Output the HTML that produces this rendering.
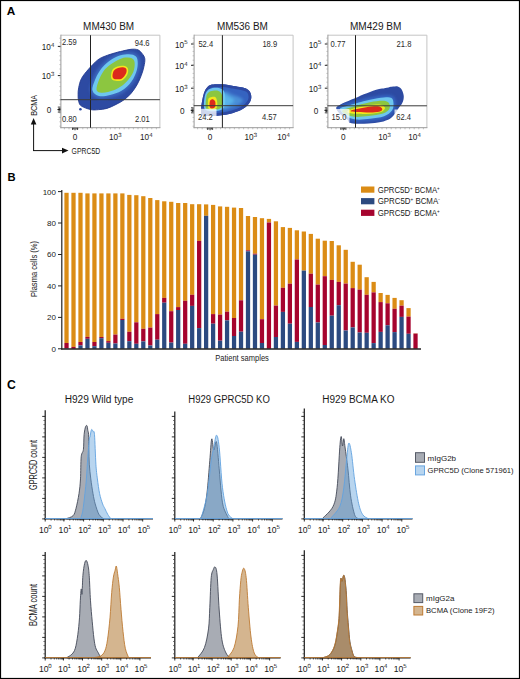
<!DOCTYPE html>
<html><head><meta charset="utf-8"><style>
html,body{margin:0;padding:0;background:#fff;}
svg{display:block;font-family:"Liberation Sans", sans-serif;}
</style></head><body>
<svg width="520" height="679" viewBox="0 0 520 679">
<rect x="0" y="0" width="520" height="679" fill="#fff"/>
<text x="6.8" y="15.2" font-size="11.8" font-weight="bold">A</text>
<text x="7.6" y="181.3" font-size="11.2" font-weight="bold">B</text>
<text x="7.0" y="388.6" font-size="12.2" font-weight="bold">C</text>
<defs><filter id="bl" x="-20%" y="-20%" width="140%" height="140%"><feGaussianBlur stdDeviation="0.75"/></filter><filter id="bl2" x="-20%" y="-20%" width="140%" height="140%"><feGaussianBlur stdDeviation="1.6"/></filter></defs>
<text x="108.6" y="29.6" font-size="10" text-anchor="middle" textLength="51" lengthAdjust="spacingAndGlyphs" fill="#1a1a1a">MM430 BM</text>
<clipPath id="c1"><path d="M78.10,94.60 C78.10,92.30 78.13,90.38 78.70,87.70 C79.27,85.02 79.87,81.58 81.50,78.50 C83.13,75.42 85.80,72.28 88.50,69.20 C91.20,66.12 94.95,62.17 97.70,60.00 C100.45,57.83 102.05,57.40 105.00,56.20 C107.95,55.00 112.52,53.65 115.40,52.80 C118.28,51.95 119.70,51.68 122.30,51.10 C124.90,50.52 128.40,49.52 131.00,49.30 C133.60,49.08 136.03,49.07 137.90,49.80 C139.77,50.53 141.05,52.20 142.20,53.70 C143.35,55.20 144.52,56.65 144.80,58.80 C145.08,60.95 144.48,63.85 143.90,66.60 C143.32,69.35 142.45,72.27 141.30,75.30 C140.15,78.33 138.72,81.78 137.00,84.80 C135.28,87.82 133.17,90.90 131.00,93.40 C128.83,95.90 126.48,97.97 124.00,99.80 C121.52,101.63 118.95,102.97 116.10,104.40 C113.25,105.83 109.78,107.53 106.90,108.40 C104.02,109.27 101.48,109.40 98.80,109.60 C96.12,109.80 93.68,110.18 90.80,109.60 C87.92,109.02 83.52,107.45 81.50,106.10 C79.48,104.75 79.27,103.42 78.70,101.50 C78.13,99.58 78.10,96.90 78.10,94.60 Z"/></clipPath>
<path d="M78.10,94.60 C78.10,92.30 78.13,90.38 78.70,87.70 C79.27,85.02 79.87,81.58 81.50,78.50 C83.13,75.42 85.80,72.28 88.50,69.20 C91.20,66.12 94.95,62.17 97.70,60.00 C100.45,57.83 102.05,57.40 105.00,56.20 C107.95,55.00 112.52,53.65 115.40,52.80 C118.28,51.95 119.70,51.68 122.30,51.10 C124.90,50.52 128.40,49.52 131.00,49.30 C133.60,49.08 136.03,49.07 137.90,49.80 C139.77,50.53 141.05,52.20 142.20,53.70 C143.35,55.20 144.52,56.65 144.80,58.80 C145.08,60.95 144.48,63.85 143.90,66.60 C143.32,69.35 142.45,72.27 141.30,75.30 C140.15,78.33 138.72,81.78 137.00,84.80 C135.28,87.82 133.17,90.90 131.00,93.40 C128.83,95.90 126.48,97.97 124.00,99.80 C121.52,101.63 118.95,102.97 116.10,104.40 C113.25,105.83 109.78,107.53 106.90,108.40 C104.02,109.27 101.48,109.40 98.80,109.60 C96.12,109.80 93.68,110.18 90.80,109.60 C87.92,109.02 83.52,107.45 81.50,106.10 C79.48,104.75 79.27,103.42 78.70,101.50 C78.13,99.58 78.10,96.90 78.10,94.60 Z" fill="#2d4aa2"/>
<g clip-path="url(#c1)"><g filter="url(#bl2)">
<path d="M92.50,90.50 C91.83,87.83 93.75,83.33 95.00,80.00 C96.25,76.67 98.08,73.28 100.00,70.50 C101.92,67.72 103.83,65.55 106.50,63.30 C109.17,61.05 112.92,58.47 116.00,57.00 C119.08,55.53 122.17,54.87 125.00,54.50 C127.83,54.13 130.95,54.05 133.00,54.80 C135.05,55.55 136.63,56.55 137.30,59.00 C137.97,61.45 137.97,65.75 137.00,69.50 C136.03,73.25 134.08,77.95 131.50,81.50 C128.92,85.05 125.08,88.55 121.50,90.80 C117.92,93.05 113.75,94.13 110.00,95.00 C106.25,95.87 101.92,96.75 99.00,96.00 C96.08,95.25 93.17,93.17 92.50,90.50 Z" fill="#4a8ad8" stroke="#3a66bd" stroke-width="5" stroke-linejoin="round"/>
</g><g filter="url(#bl)">
<path d="M92.50,90.50 C91.83,87.83 93.75,83.33 95.00,80.00 C96.25,76.67 98.08,73.28 100.00,70.50 C101.92,67.72 103.83,65.55 106.50,63.30 C109.17,61.05 112.92,58.47 116.00,57.00 C119.08,55.53 122.17,54.87 125.00,54.50 C127.83,54.13 130.95,54.05 133.00,54.80 C135.05,55.55 136.63,56.55 137.30,59.00 C137.97,61.45 137.97,65.75 137.00,69.50 C136.03,73.25 134.08,77.95 131.50,81.50 C128.92,85.05 125.08,88.55 121.50,90.80 C117.92,93.05 113.75,94.13 110.00,95.00 C106.25,95.87 101.92,96.75 99.00,96.00 C96.08,95.25 93.17,93.17 92.50,90.50 Z" fill="#6ec6ee"/>
<path d="M96.50,89.50 C96.30,87.50 97.72,83.42 98.80,80.50 C99.88,77.58 101.38,74.42 103.00,72.00 C104.62,69.58 106.08,67.95 108.50,66.00 C110.92,64.05 114.68,61.70 117.50,60.30 C120.32,58.90 123.02,57.95 125.40,57.60 C127.78,57.25 130.27,57.38 131.80,58.20 C133.33,59.02 134.35,60.20 134.60,62.50 C134.85,64.80 134.57,68.88 133.30,72.00 C132.03,75.12 129.55,78.48 127.00,81.20 C124.45,83.92 121.17,86.50 118.00,88.30 C114.83,90.10 111.00,91.30 108.00,92.00 C105.00,92.70 101.92,92.92 100.00,92.50 C98.08,92.08 96.70,91.50 96.50,89.50 Z" fill="#8cc63f"/>
<path d="M111.00,76.00 C111.05,74.30 111.52,71.18 112.60,69.60 C113.68,68.02 115.68,67.13 117.50,66.50 C119.32,65.87 121.78,65.50 123.50,65.80 C125.22,66.10 127.13,66.88 127.80,68.30 C128.47,69.72 128.33,72.35 127.50,74.30 C126.67,76.25 124.58,78.90 122.80,80.00 C121.02,81.10 118.55,80.93 116.80,80.90 C115.05,80.87 113.27,80.62 112.30,79.80 C111.33,78.98 110.95,77.70 111.00,76.00 Z" fill="#f4e71b"/>
<path d="M112.50,75.50 C112.58,74.17 113.08,71.75 114.00,70.50 C114.92,69.25 116.50,68.53 118.00,68.00 C119.50,67.47 121.62,67.13 123.00,67.30 C124.38,67.47 125.80,67.97 126.30,69.00 C126.80,70.03 126.72,71.92 126.00,73.50 C125.28,75.08 123.50,77.53 122.00,78.50 C120.50,79.47 118.42,79.30 117.00,79.30 C115.58,79.30 114.25,79.13 113.50,78.50 C112.75,77.87 112.42,76.83 112.50,75.50 Z" fill="#dc2a1f"/>
</g></g>
<path d="M78.10,94.60 C78.10,92.30 78.13,90.38 78.70,87.70 C79.27,85.02 79.87,81.58 81.50,78.50 C83.13,75.42 85.80,72.28 88.50,69.20 C91.20,66.12 94.95,62.17 97.70,60.00 C100.45,57.83 102.05,57.40 105.00,56.20 C107.95,55.00 112.52,53.65 115.40,52.80 C118.28,51.95 119.70,51.68 122.30,51.10 C124.90,50.52 128.40,49.52 131.00,49.30 C133.60,49.08 136.03,49.07 137.90,49.80 C139.77,50.53 141.05,52.20 142.20,53.70 C143.35,55.20 144.52,56.65 144.80,58.80 C145.08,60.95 144.48,63.85 143.90,66.60 C143.32,69.35 142.45,72.27 141.30,75.30 C140.15,78.33 138.72,81.78 137.00,84.80 C135.28,87.82 133.17,90.90 131.00,93.40 C128.83,95.90 126.48,97.97 124.00,99.80 C121.52,101.63 118.95,102.97 116.10,104.40 C113.25,105.83 109.78,107.53 106.90,108.40 C104.02,109.27 101.48,109.40 98.80,109.60 C96.12,109.80 93.68,110.18 90.80,109.60 C87.92,109.02 83.52,107.45 81.50,106.10 C79.48,104.75 79.27,103.42 78.70,101.50 C78.13,99.58 78.10,96.90 78.10,94.60 Z" fill="none" stroke="#223a90" stroke-width="0.9"/>
<circle cx="80.4" cy="109.2" r="1.3" fill="#2d4aa2"/>
<path d="M60.9,35.2 H159.9 V127.7" fill="none" stroke="#c4c4c4" stroke-width="1"/>
<line x1="60.9" y1="34.7" x2="60.9" y2="128.2" stroke="#9a9a9a" stroke-width="1"/>
<line x1="60.4" y1="127.7" x2="160.4" y2="127.7" stroke="#9a9a9a" stroke-width="1"/>
<line x1="90.5" y1="35.2" x2="90.5" y2="127.7" stroke="#222" stroke-width="1"/>
<line x1="60.4" y1="99.7" x2="159.9" y2="99.7" stroke="#3a3a3a" stroke-width="1"/>
<line x1="59.4" y1="38.2" x2="60.699999999999996" y2="38.2" stroke="#999" stroke-width="0.6"/>
<line x1="59.4" y1="42.6" x2="60.699999999999996" y2="42.6" stroke="#999" stroke-width="0.6"/>
<line x1="59.4" y1="47.0" x2="60.699999999999996" y2="47.0" stroke="#999" stroke-width="0.6"/>
<line x1="59.4" y1="51.4" x2="60.699999999999996" y2="51.4" stroke="#999" stroke-width="0.6"/>
<line x1="59.4" y1="55.8" x2="60.699999999999996" y2="55.8" stroke="#999" stroke-width="0.6"/>
<line x1="59.4" y1="60.2" x2="60.699999999999996" y2="60.2" stroke="#999" stroke-width="0.6"/>
<line x1="59.4" y1="64.6" x2="60.699999999999996" y2="64.6" stroke="#999" stroke-width="0.6"/>
<line x1="59.4" y1="69.0" x2="60.699999999999996" y2="69.0" stroke="#999" stroke-width="0.6"/>
<line x1="59.4" y1="73.4" x2="60.699999999999996" y2="73.4" stroke="#999" stroke-width="0.6"/>
<line x1="59.4" y1="77.8" x2="60.699999999999996" y2="77.8" stroke="#999" stroke-width="0.6"/>
<line x1="59.4" y1="82.2" x2="60.699999999999996" y2="82.2" stroke="#999" stroke-width="0.6"/>
<line x1="59.4" y1="86.6" x2="60.699999999999996" y2="86.6" stroke="#999" stroke-width="0.6"/>
<line x1="59.4" y1="91.0" x2="60.699999999999996" y2="91.0" stroke="#999" stroke-width="0.6"/>
<line x1="59.4" y1="95.4" x2="60.699999999999996" y2="95.4" stroke="#999" stroke-width="0.6"/>
<line x1="59.4" y1="99.8" x2="60.699999999999996" y2="99.8" stroke="#999" stroke-width="0.6"/>
<line x1="59.4" y1="104.2" x2="60.699999999999996" y2="104.2" stroke="#999" stroke-width="0.6"/>
<line x1="59.4" y1="108.6" x2="60.699999999999996" y2="108.6" stroke="#999" stroke-width="0.6"/>
<line x1="59.4" y1="113.0" x2="60.699999999999996" y2="113.0" stroke="#999" stroke-width="0.6"/>
<line x1="59.4" y1="117.4" x2="60.699999999999996" y2="117.4" stroke="#999" stroke-width="0.6"/>
<line x1="59.4" y1="121.8" x2="60.699999999999996" y2="121.8" stroke="#999" stroke-width="0.6"/>
<line x1="59.4" y1="126.2" x2="60.699999999999996" y2="126.2" stroke="#999" stroke-width="0.6"/>
<line x1="64.4" y1="127.7" x2="64.4" y2="129.3" stroke="#999" stroke-width="0.6"/>
<line x1="69.0" y1="127.7" x2="69.0" y2="129.3" stroke="#999" stroke-width="0.6"/>
<line x1="73.6" y1="127.7" x2="73.6" y2="129.3" stroke="#999" stroke-width="0.6"/>
<line x1="78.2" y1="127.7" x2="78.2" y2="129.3" stroke="#999" stroke-width="0.6"/>
<line x1="82.8" y1="127.7" x2="82.8" y2="129.3" stroke="#999" stroke-width="0.6"/>
<line x1="87.4" y1="127.7" x2="87.4" y2="129.3" stroke="#999" stroke-width="0.6"/>
<line x1="92.0" y1="127.7" x2="92.0" y2="129.3" stroke="#999" stroke-width="0.6"/>
<line x1="96.6" y1="127.7" x2="96.6" y2="129.3" stroke="#999" stroke-width="0.6"/>
<line x1="101.2" y1="127.7" x2="101.2" y2="129.3" stroke="#999" stroke-width="0.6"/>
<line x1="105.8" y1="127.7" x2="105.8" y2="129.3" stroke="#999" stroke-width="0.6"/>
<line x1="110.4" y1="127.7" x2="110.4" y2="129.3" stroke="#999" stroke-width="0.6"/>
<line x1="115.0" y1="127.7" x2="115.0" y2="129.3" stroke="#999" stroke-width="0.6"/>
<line x1="119.6" y1="127.7" x2="119.6" y2="129.3" stroke="#999" stroke-width="0.6"/>
<line x1="124.2" y1="127.7" x2="124.2" y2="129.3" stroke="#999" stroke-width="0.6"/>
<line x1="128.8" y1="127.7" x2="128.8" y2="129.3" stroke="#999" stroke-width="0.6"/>
<line x1="133.4" y1="127.7" x2="133.4" y2="129.3" stroke="#999" stroke-width="0.6"/>
<line x1="138.0" y1="127.7" x2="138.0" y2="129.3" stroke="#999" stroke-width="0.6"/>
<line x1="142.6" y1="127.7" x2="142.6" y2="129.3" stroke="#999" stroke-width="0.6"/>
<line x1="147.2" y1="127.7" x2="147.2" y2="129.3" stroke="#999" stroke-width="0.6"/>
<line x1="151.8" y1="127.7" x2="151.8" y2="129.3" stroke="#999" stroke-width="0.6"/>
<line x1="156.4" y1="127.7" x2="156.4" y2="129.3" stroke="#999" stroke-width="0.6"/>
<line x1="57.8" y1="46.4" x2="60.4" y2="46.4" stroke="#222" stroke-width="1"/>
<text x="50.8" y="50.1" font-size="8.2" text-anchor="end" fill="#1a1a1a">10</text>
<text x="51.0" y="46.8" font-size="6" text-rendering="geometricPrecision" fill="#1a1a1a">4</text>
<line x1="57.8" y1="75.6" x2="60.4" y2="75.6" stroke="#222" stroke-width="1"/>
<text x="50.8" y="79.3" font-size="8.2" text-anchor="end" fill="#1a1a1a">10</text>
<text x="51.0" y="76.0" font-size="6" text-rendering="geometricPrecision" fill="#1a1a1a">3</text>
<line x1="57.8" y1="109.6" x2="60.4" y2="109.6" stroke="#222" stroke-width="1"/>
<text x="51.4" y="112.89999999999999" font-size="8.2" text-anchor="end" fill="#1a1a1a">0</text>
<path d="M57.8,107.1 h2.6 M58.4,108.39999999999999 h2 M57.4,109.6 h3 M58.4,110.8 h2 M57.8,112.1 h2.6" stroke="#111" stroke-width="0.8"/>
<text x="75" y="140.2" font-size="8.2" text-anchor="middle" fill="#1a1a1a">0</text>
<path d="M72.5,127.7 v2.2 M73.8,127.7 v1.8 M75,127.7 v2.6 M76.2,127.7 v1.8 M77.5,127.7 v2.2" stroke="#111" stroke-width="0.8"/>
<text x="118" y="140.2" font-size="8.2" text-anchor="end" fill="#1a1a1a">10</text>
<text x="118.2" y="136.8" font-size="6" text-rendering="geometricPrecision" fill="#1a1a1a">3</text>
<text x="149" y="140.2" font-size="8.2" text-anchor="end" fill="#1a1a1a">10</text>
<text x="149.2" y="136.8" font-size="6" text-rendering="geometricPrecision" fill="#1a1a1a">4</text>
<text x="62" y="45.4" font-size="8.4" textLength="14.8" lengthAdjust="spacingAndGlyphs" fill="#2a2a2a">2.59</text>
<text x="134.7" y="45.6" font-size="8.4" textLength="14.8" lengthAdjust="spacingAndGlyphs" fill="#2a2a2a">94.6</text>
<text x="62" y="122" font-size="8.4" textLength="14.8" lengthAdjust="spacingAndGlyphs" fill="#2a2a2a">0.80</text>
<text x="135" y="122" font-size="8.4" textLength="14.8" lengthAdjust="spacingAndGlyphs" fill="#2a2a2a">2.01</text>
<text x="242.4" y="29.6" font-size="10" text-anchor="middle" textLength="51" lengthAdjust="spacingAndGlyphs" fill="#1a1a1a">MM536 BM</text>
<clipPath id="c2"><path d="M201.20,107.80 C201.28,105.13 201.95,101.68 202.50,99.00 C203.05,96.32 203.67,93.70 204.50,91.70 C205.33,89.70 206.25,88.18 207.50,87.00 C208.75,85.82 209.45,85.05 212.00,84.60 C214.55,84.15 219.22,84.08 222.80,84.30 C226.38,84.52 230.38,85.40 233.50,85.90 C236.62,86.40 239.33,86.82 241.50,87.30 C243.67,87.78 245.12,88.10 246.50,88.80 C247.88,89.50 249.02,90.38 249.80,91.50 C250.58,92.62 251.00,94.17 251.20,95.50 C251.40,96.83 251.37,98.17 251.00,99.50 C250.63,100.83 250.00,102.17 249.00,103.50 C248.00,104.83 246.83,106.20 245.00,107.50 C243.17,108.80 240.82,110.17 238.00,111.30 C235.18,112.43 231.18,113.62 228.10,114.30 C225.02,114.98 222.52,115.12 219.50,115.40 C216.48,115.68 212.92,116.07 210.00,116.00 C207.08,115.93 203.47,116.37 202.00,115.00 C200.53,113.63 201.12,110.47 201.20,107.80 Z"/></clipPath>
<path d="M201.20,107.80 C201.28,105.13 201.95,101.68 202.50,99.00 C203.05,96.32 203.67,93.70 204.50,91.70 C205.33,89.70 206.25,88.18 207.50,87.00 C208.75,85.82 209.45,85.05 212.00,84.60 C214.55,84.15 219.22,84.08 222.80,84.30 C226.38,84.52 230.38,85.40 233.50,85.90 C236.62,86.40 239.33,86.82 241.50,87.30 C243.67,87.78 245.12,88.10 246.50,88.80 C247.88,89.50 249.02,90.38 249.80,91.50 C250.58,92.62 251.00,94.17 251.20,95.50 C251.40,96.83 251.37,98.17 251.00,99.50 C250.63,100.83 250.00,102.17 249.00,103.50 C248.00,104.83 246.83,106.20 245.00,107.50 C243.17,108.80 240.82,110.17 238.00,111.30 C235.18,112.43 231.18,113.62 228.10,114.30 C225.02,114.98 222.52,115.12 219.50,115.40 C216.48,115.68 212.92,116.07 210.00,116.00 C207.08,115.93 203.47,116.37 202.00,115.00 C200.53,113.63 201.12,110.47 201.20,107.80 Z" fill="#2d4aa2"/>
<g clip-path="url(#c2)">
<g filter="url(#bl)"><path d="M201.20,107.80 C201.28,105.13 201.95,101.68 202.50,99.00 C203.05,96.32 203.67,93.70 204.50,91.70 C205.33,89.70 206.25,88.18 207.50,87.00 C208.75,85.82 209.45,85.05 212.00,84.60 C214.55,84.15 219.22,84.08 222.80,84.30 C226.38,84.52 230.38,85.40 233.50,85.90 C236.62,86.40 239.33,86.82 241.50,87.30 C243.67,87.78 245.12,88.10 246.50,88.80 C247.88,89.50 249.02,90.38 249.80,91.50 C250.58,92.62 251.00,94.17 251.20,95.50 C251.40,96.83 251.37,98.17 251.00,99.50 C250.63,100.83 250.00,102.17 249.00,103.50 C248.00,104.83 246.83,106.20 245.00,107.50 C243.17,108.80 240.82,110.17 238.00,111.30 C235.18,112.43 231.18,113.62 228.10,114.30 C225.02,114.98 222.52,115.12 219.50,115.40 C216.48,115.68 212.92,116.07 210.00,116.00 C207.08,115.93 203.47,116.37 202.00,115.00 C200.53,113.63 201.12,110.47 201.20,107.80 Z" fill="#3563c0" stroke="#2d4aa2" stroke-width="5.5"/></g>
<g filter="url(#bl2)">
<path d="M224.00,92.00 C225.67,89.58 229.33,93.58 232.00,94.50 C234.67,95.42 238.17,96.42 240.00,97.50 C241.83,98.58 243.33,99.75 243.00,101.00 C242.67,102.25 240.17,103.83 238.00,105.00 C235.83,106.17 232.67,107.33 230.00,108.00 C227.33,108.67 223.00,111.67 222.00,109.00 C221.00,106.33 222.33,94.42 224.00,92.00 Z" fill="#4a8fd8"/>
<path d="M222.00,93.00 C223.00,91.17 226.00,94.83 228.00,96.00 C230.00,97.17 233.67,98.58 234.00,100.00 C234.33,101.42 232.00,103.33 230.00,104.50 C228.00,105.67 223.33,108.92 222.00,107.00 C220.67,105.08 221.00,94.83 222.00,93.00 Z" fill="#58b4ea"/>
</g><g filter="url(#bl)">
<path d="M204.00,107.00 C203.63,104.58 204.22,98.75 204.80,96.00 C205.38,93.25 206.22,91.83 207.50,90.50 C208.78,89.17 210.58,88.42 212.50,88.00 C214.42,87.58 217.17,87.58 219.00,88.00 C220.83,88.42 222.50,89.17 223.50,90.50 C224.50,91.83 224.75,93.75 225.00,96.00 C225.25,98.25 225.50,101.75 225.00,104.00 C224.50,106.25 223.83,108.30 222.00,109.50 C220.17,110.70 216.50,111.03 214.00,111.20 C211.50,111.37 208.67,111.20 207.00,110.50 C205.33,109.80 204.37,109.42 204.00,107.00 Z" fill="#6ec6ee"/>
<path d="M205.80,107.50 C205.43,105.42 205.85,99.48 206.30,97.00 C206.75,94.52 207.38,93.63 208.50,92.60 C209.62,91.57 211.33,91.07 213.00,90.80 C214.67,90.53 217.03,90.38 218.50,91.00 C219.97,91.62 221.05,92.83 221.80,94.50 C222.55,96.17 223.00,98.88 223.00,101.00 C223.00,103.12 223.10,105.73 221.80,107.20 C220.50,108.67 217.42,109.42 215.20,109.80 C212.98,110.18 210.07,109.88 208.50,109.50 C206.93,109.12 206.17,109.58 205.80,107.50 Z" fill="#8cc63f"/>
<path d="M207.90,104.50 C207.87,102.90 207.77,100.05 208.40,98.80 C209.03,97.55 210.52,97.25 211.70,97.00 C212.88,96.75 214.58,96.47 215.50,97.30 C216.42,98.13 217.00,100.25 217.20,102.00 C217.40,103.75 217.57,106.57 216.70,107.80 C215.83,109.03 213.35,109.30 212.00,109.40 C210.65,109.50 209.28,109.22 208.60,108.40 C207.92,107.58 207.93,106.10 207.90,104.50 Z" fill="#f4e71b"/>
<path d="M209.60,103.00 C209.70,101.77 210.00,100.60 210.60,100.00 C211.20,99.40 212.43,99.13 213.20,99.40 C213.97,99.67 214.87,100.40 215.20,101.60 C215.53,102.80 215.63,105.43 215.20,106.60 C214.77,107.77 213.47,108.47 212.60,108.60 C211.73,108.73 210.50,108.33 210.00,107.40 C209.50,106.47 209.50,104.23 209.60,103.00 Z" fill="#dc2a1f"/>
</g></g><rect x="196.5" y="108.8" width="20" height="11.5" fill="#fff" opacity="0.76"/>
<path d="M194.1,35.2 H293.1 V127.7" fill="none" stroke="#c4c4c4" stroke-width="1"/>
<line x1="194.1" y1="34.7" x2="194.1" y2="128.2" stroke="#9a9a9a" stroke-width="1"/>
<line x1="193.6" y1="127.7" x2="293.6" y2="127.7" stroke="#9a9a9a" stroke-width="1"/>
<line x1="222.4" y1="35.2" x2="222.4" y2="127.7" stroke="#222" stroke-width="1"/>
<line x1="193.6" y1="105.7" x2="293.1" y2="105.7" stroke="#3a3a3a" stroke-width="1"/>
<line x1="192.6" y1="38.2" x2="193.9" y2="38.2" stroke="#999" stroke-width="0.6"/>
<line x1="192.6" y1="42.6" x2="193.9" y2="42.6" stroke="#999" stroke-width="0.6"/>
<line x1="192.6" y1="47.0" x2="193.9" y2="47.0" stroke="#999" stroke-width="0.6"/>
<line x1="192.6" y1="51.4" x2="193.9" y2="51.4" stroke="#999" stroke-width="0.6"/>
<line x1="192.6" y1="55.8" x2="193.9" y2="55.8" stroke="#999" stroke-width="0.6"/>
<line x1="192.6" y1="60.2" x2="193.9" y2="60.2" stroke="#999" stroke-width="0.6"/>
<line x1="192.6" y1="64.6" x2="193.9" y2="64.6" stroke="#999" stroke-width="0.6"/>
<line x1="192.6" y1="69.0" x2="193.9" y2="69.0" stroke="#999" stroke-width="0.6"/>
<line x1="192.6" y1="73.4" x2="193.9" y2="73.4" stroke="#999" stroke-width="0.6"/>
<line x1="192.6" y1="77.8" x2="193.9" y2="77.8" stroke="#999" stroke-width="0.6"/>
<line x1="192.6" y1="82.2" x2="193.9" y2="82.2" stroke="#999" stroke-width="0.6"/>
<line x1="192.6" y1="86.6" x2="193.9" y2="86.6" stroke="#999" stroke-width="0.6"/>
<line x1="192.6" y1="91.0" x2="193.9" y2="91.0" stroke="#999" stroke-width="0.6"/>
<line x1="192.6" y1="95.4" x2="193.9" y2="95.4" stroke="#999" stroke-width="0.6"/>
<line x1="192.6" y1="99.8" x2="193.9" y2="99.8" stroke="#999" stroke-width="0.6"/>
<line x1="192.6" y1="104.2" x2="193.9" y2="104.2" stroke="#999" stroke-width="0.6"/>
<line x1="192.6" y1="108.6" x2="193.9" y2="108.6" stroke="#999" stroke-width="0.6"/>
<line x1="192.6" y1="113.0" x2="193.9" y2="113.0" stroke="#999" stroke-width="0.6"/>
<line x1="192.6" y1="117.4" x2="193.9" y2="117.4" stroke="#999" stroke-width="0.6"/>
<line x1="192.6" y1="121.8" x2="193.9" y2="121.8" stroke="#999" stroke-width="0.6"/>
<line x1="192.6" y1="126.2" x2="193.9" y2="126.2" stroke="#999" stroke-width="0.6"/>
<line x1="197.6" y1="127.7" x2="197.6" y2="129.3" stroke="#999" stroke-width="0.6"/>
<line x1="202.2" y1="127.7" x2="202.2" y2="129.3" stroke="#999" stroke-width="0.6"/>
<line x1="206.8" y1="127.7" x2="206.8" y2="129.3" stroke="#999" stroke-width="0.6"/>
<line x1="211.4" y1="127.7" x2="211.4" y2="129.3" stroke="#999" stroke-width="0.6"/>
<line x1="216.0" y1="127.7" x2="216.0" y2="129.3" stroke="#999" stroke-width="0.6"/>
<line x1="220.6" y1="127.7" x2="220.6" y2="129.3" stroke="#999" stroke-width="0.6"/>
<line x1="225.2" y1="127.7" x2="225.2" y2="129.3" stroke="#999" stroke-width="0.6"/>
<line x1="229.8" y1="127.7" x2="229.8" y2="129.3" stroke="#999" stroke-width="0.6"/>
<line x1="234.4" y1="127.7" x2="234.4" y2="129.3" stroke="#999" stroke-width="0.6"/>
<line x1="239.0" y1="127.7" x2="239.0" y2="129.3" stroke="#999" stroke-width="0.6"/>
<line x1="243.6" y1="127.7" x2="243.6" y2="129.3" stroke="#999" stroke-width="0.6"/>
<line x1="248.2" y1="127.7" x2="248.2" y2="129.3" stroke="#999" stroke-width="0.6"/>
<line x1="252.8" y1="127.7" x2="252.8" y2="129.3" stroke="#999" stroke-width="0.6"/>
<line x1="257.4" y1="127.7" x2="257.4" y2="129.3" stroke="#999" stroke-width="0.6"/>
<line x1="262.0" y1="127.7" x2="262.0" y2="129.3" stroke="#999" stroke-width="0.6"/>
<line x1="266.6" y1="127.7" x2="266.6" y2="129.3" stroke="#999" stroke-width="0.6"/>
<line x1="271.2" y1="127.7" x2="271.2" y2="129.3" stroke="#999" stroke-width="0.6"/>
<line x1="275.8" y1="127.7" x2="275.8" y2="129.3" stroke="#999" stroke-width="0.6"/>
<line x1="280.4" y1="127.7" x2="280.4" y2="129.3" stroke="#999" stroke-width="0.6"/>
<line x1="285.0" y1="127.7" x2="285.0" y2="129.3" stroke="#999" stroke-width="0.6"/>
<line x1="289.6" y1="127.7" x2="289.6" y2="129.3" stroke="#999" stroke-width="0.6"/>
<line x1="191.0" y1="44" x2="193.6" y2="44" stroke="#222" stroke-width="1"/>
<text x="184.0" y="47.7" font-size="8.2" text-anchor="end" fill="#1a1a1a">10</text>
<text x="184.2" y="44.4" font-size="6" text-rendering="geometricPrecision" fill="#1a1a1a">5</text>
<line x1="191.0" y1="65.3" x2="193.6" y2="65.3" stroke="#222" stroke-width="1"/>
<text x="184.0" y="69.0" font-size="8.2" text-anchor="end" fill="#1a1a1a">10</text>
<text x="184.2" y="65.7" font-size="6" text-rendering="geometricPrecision" fill="#1a1a1a">4</text>
<line x1="191.0" y1="88.2" x2="193.6" y2="88.2" stroke="#222" stroke-width="1"/>
<text x="184.0" y="91.9" font-size="8.2" text-anchor="end" fill="#1a1a1a">10</text>
<text x="184.2" y="88.60000000000001" font-size="6" text-rendering="geometricPrecision" fill="#1a1a1a">3</text>
<line x1="191.0" y1="110.3" x2="193.6" y2="110.3" stroke="#222" stroke-width="1"/>
<text x="184.6" y="113.6" font-size="8.2" text-anchor="end" fill="#1a1a1a">0</text>
<path d="M191.0,107.8 h2.6 M191.6,109.1 h2 M190.6,110.3 h3 M191.6,111.5 h2 M191.0,112.8 h2.6" stroke="#111" stroke-width="0.8"/>
<text x="210.1" y="140.2" font-size="8.2" text-anchor="middle" fill="#1a1a1a">0</text>
<path d="M207.6,127.7 v2.2 M208.9,127.7 v1.8 M210.1,127.7 v2.6 M211.29999999999998,127.7 v1.8 M212.6,127.7 v2.2" stroke="#111" stroke-width="0.8"/>
<text x="253.5" y="140.2" font-size="8.2" text-anchor="end" fill="#1a1a1a">10</text>
<text x="253.7" y="136.8" font-size="6" text-rendering="geometricPrecision" fill="#1a1a1a">3</text>
<text x="286.3" y="140.2" font-size="8.2" text-anchor="end" fill="#1a1a1a">10</text>
<text x="286.5" y="136.8" font-size="6" text-rendering="geometricPrecision" fill="#1a1a1a">4</text>
<text x="198.4" y="47.3" font-size="8.4" textLength="14.8" lengthAdjust="spacingAndGlyphs" fill="#2a2a2a">52.4</text>
<text x="262.4" y="47.3" font-size="8.4" textLength="14.8" lengthAdjust="spacingAndGlyphs" fill="#2a2a2a">18.9</text>
<text x="198" y="120.1" font-size="8.4" textLength="14.8" lengthAdjust="spacingAndGlyphs" fill="#2a2a2a">24.2</text>
<text x="262" y="120.1" font-size="8.4" textLength="14.8" lengthAdjust="spacingAndGlyphs" fill="#2a2a2a">4.57</text>
<text x="375.7" y="29.6" font-size="10" text-anchor="middle" textLength="51.4" lengthAdjust="spacingAndGlyphs" fill="#1a1a1a">MM429 BM</text>
<clipPath id="c3"><path d="M336.20,108.20 C336.03,106.78 337.98,106.28 339.00,105.50 C340.02,104.72 340.97,104.17 342.30,103.50 C343.63,102.83 345.22,102.27 347.00,101.50 C348.78,100.73 351.17,99.65 353.00,98.90 C354.83,98.15 356.20,97.77 358.00,97.00 C359.80,96.23 361.80,95.13 363.80,94.30 C365.80,93.47 367.93,92.77 370.00,92.00 C372.07,91.23 374.20,90.27 376.20,89.70 C378.20,89.13 379.95,88.98 382.00,88.60 C384.05,88.22 386.67,87.73 388.50,87.40 C390.33,87.07 391.47,86.77 393.00,86.60 C394.53,86.43 396.28,85.97 397.70,86.40 C399.12,86.83 400.52,87.77 401.50,89.20 C402.48,90.63 403.27,93.28 403.60,95.00 C403.93,96.72 403.77,98.08 403.50,99.50 C403.23,100.92 402.83,102.03 402.00,103.50 C401.17,104.97 399.67,106.58 398.50,108.30 C397.33,110.02 396.42,112.07 395.00,113.80 C393.58,115.53 392.37,117.33 390.00,118.70 C387.63,120.07 384.38,121.20 380.80,122.00 C377.22,122.80 372.35,123.20 368.50,123.50 C364.65,123.80 360.78,123.92 357.70,123.80 C354.62,123.68 351.80,123.62 350.00,122.80 C348.20,121.98 348.57,120.37 346.90,118.90 C345.23,117.43 341.78,115.78 340.00,114.00 C338.22,112.22 336.37,109.62 336.20,108.20 Z"/></clipPath>
<path d="M336.20,108.20 C336.03,106.78 337.98,106.28 339.00,105.50 C340.02,104.72 340.97,104.17 342.30,103.50 C343.63,102.83 345.22,102.27 347.00,101.50 C348.78,100.73 351.17,99.65 353.00,98.90 C354.83,98.15 356.20,97.77 358.00,97.00 C359.80,96.23 361.80,95.13 363.80,94.30 C365.80,93.47 367.93,92.77 370.00,92.00 C372.07,91.23 374.20,90.27 376.20,89.70 C378.20,89.13 379.95,88.98 382.00,88.60 C384.05,88.22 386.67,87.73 388.50,87.40 C390.33,87.07 391.47,86.77 393.00,86.60 C394.53,86.43 396.28,85.97 397.70,86.40 C399.12,86.83 400.52,87.77 401.50,89.20 C402.48,90.63 403.27,93.28 403.60,95.00 C403.93,96.72 403.77,98.08 403.50,99.50 C403.23,100.92 402.83,102.03 402.00,103.50 C401.17,104.97 399.67,106.58 398.50,108.30 C397.33,110.02 396.42,112.07 395.00,113.80 C393.58,115.53 392.37,117.33 390.00,118.70 C387.63,120.07 384.38,121.20 380.80,122.00 C377.22,122.80 372.35,123.20 368.50,123.50 C364.65,123.80 360.78,123.92 357.70,123.80 C354.62,123.68 351.80,123.62 350.00,122.80 C348.20,121.98 348.57,120.37 346.90,118.90 C345.23,117.43 341.78,115.78 340.00,114.00 C338.22,112.22 336.37,109.62 336.20,108.20 Z" fill="#2d4aa2"/>
<g clip-path="url(#c3)"><g filter="url(#bl2)">
<path d="M340.00,109.00 C340.00,107.37 343.83,107.00 346.00,106.20 C348.17,105.40 349.00,105.27 353.00,104.20 C357.00,103.13 364.87,100.92 370.00,99.80 C375.13,98.68 380.22,97.80 383.80,97.50 C387.38,97.20 389.88,97.00 391.50,98.00 C393.12,99.00 393.42,101.42 393.50,103.50 C393.58,105.58 393.58,108.37 392.00,110.50 C390.42,112.63 387.67,114.92 384.00,116.30 C380.33,117.68 374.67,118.27 370.00,118.80 C365.33,119.33 360.00,119.97 356.00,119.50 C352.00,119.03 348.67,117.75 346.00,116.00 C343.33,114.25 340.00,110.63 340.00,109.00 Z" fill="#3a78d0" stroke="#3465c2" stroke-width="4.5" stroke-linejoin="round"/>
</g><g filter="url(#bl)">
<path d="M340.00,109.00 C340.00,107.37 343.83,107.00 346.00,106.20 C348.17,105.40 349.00,105.27 353.00,104.20 C357.00,103.13 364.87,100.92 370.00,99.80 C375.13,98.68 380.22,97.80 383.80,97.50 C387.38,97.20 389.88,97.00 391.50,98.00 C393.12,99.00 393.42,101.42 393.50,103.50 C393.58,105.58 393.58,108.37 392.00,110.50 C390.42,112.63 387.67,114.92 384.00,116.30 C380.33,117.68 374.67,118.27 370.00,118.80 C365.33,119.33 360.00,119.97 356.00,119.50 C352.00,119.03 348.67,117.75 346.00,116.00 C343.33,114.25 340.00,110.63 340.00,109.00 Z" fill="#6ec6ee"/>
<path d="M342.50,110.50 C343.77,109.30 348.42,108.17 353.00,106.80 C357.58,105.43 365.12,103.30 370.00,102.30 C374.88,101.30 379.22,100.77 382.30,100.80 C385.38,100.83 387.30,101.22 388.50,102.50 C389.70,103.78 390.42,106.67 389.50,108.50 C388.58,110.33 386.50,112.25 383.00,113.50 C379.50,114.75 373.23,115.45 368.50,116.00 C363.77,116.55 358.45,117.13 354.60,116.80 C350.75,116.47 347.42,115.05 345.40,114.00 C343.38,112.95 341.23,111.70 342.50,110.50 Z" fill="#8cc63f"/>
<path d="M347.50,111.20 C348.08,110.50 349.25,109.83 353.00,108.80 C356.75,107.77 365.37,105.67 370.00,105.00 C374.63,104.33 378.30,104.30 380.80,104.80 C383.30,105.30 384.97,106.80 385.00,108.00 C385.03,109.20 383.50,111.05 381.00,112.00 C378.50,112.95 374.13,113.40 370.00,113.70 C365.87,114.00 359.62,113.92 356.20,113.80 C352.78,113.68 350.95,113.43 349.50,113.00 C348.05,112.57 346.92,111.90 347.50,111.20 Z" fill="#f4e71b"/>
<path d="M351.50,110.20 C353.05,109.65 357.47,108.80 360.80,108.20 C364.13,107.60 368.43,106.87 371.50,106.60 C374.57,106.33 377.40,106.17 379.20,106.60 C381.00,107.03 382.30,108.33 382.30,109.20 C382.30,110.07 381.25,111.23 379.20,111.80 C377.15,112.37 373.58,112.57 370.00,112.60 C366.42,112.63 360.78,112.18 357.70,112.00 C354.62,111.82 352.53,111.80 351.50,111.50 C350.47,111.20 349.95,110.75 351.50,110.20 Z" fill="#dc2a1f"/>
</g></g><rect x="329" y="109" width="20.5" height="13" fill="#fff" opacity="0.76"/><rect x="394.5" y="109.5" width="19" height="12.5" fill="#fff" opacity="0.76"/>
<path d="M327.9,35.2 H426.9 V127.7" fill="none" stroke="#c4c4c4" stroke-width="1"/>
<line x1="327.9" y1="34.7" x2="327.9" y2="128.2" stroke="#9a9a9a" stroke-width="1"/>
<line x1="327.4" y1="127.7" x2="427.4" y2="127.7" stroke="#9a9a9a" stroke-width="1"/>
<line x1="355.5" y1="35.2" x2="355.5" y2="127.7" stroke="#222" stroke-width="1"/>
<line x1="327.4" y1="105.8" x2="426.9" y2="105.8" stroke="#3a3a3a" stroke-width="1"/>
<line x1="326.4" y1="38.2" x2="327.7" y2="38.2" stroke="#999" stroke-width="0.6"/>
<line x1="326.4" y1="42.6" x2="327.7" y2="42.6" stroke="#999" stroke-width="0.6"/>
<line x1="326.4" y1="47.0" x2="327.7" y2="47.0" stroke="#999" stroke-width="0.6"/>
<line x1="326.4" y1="51.4" x2="327.7" y2="51.4" stroke="#999" stroke-width="0.6"/>
<line x1="326.4" y1="55.8" x2="327.7" y2="55.8" stroke="#999" stroke-width="0.6"/>
<line x1="326.4" y1="60.2" x2="327.7" y2="60.2" stroke="#999" stroke-width="0.6"/>
<line x1="326.4" y1="64.6" x2="327.7" y2="64.6" stroke="#999" stroke-width="0.6"/>
<line x1="326.4" y1="69.0" x2="327.7" y2="69.0" stroke="#999" stroke-width="0.6"/>
<line x1="326.4" y1="73.4" x2="327.7" y2="73.4" stroke="#999" stroke-width="0.6"/>
<line x1="326.4" y1="77.8" x2="327.7" y2="77.8" stroke="#999" stroke-width="0.6"/>
<line x1="326.4" y1="82.2" x2="327.7" y2="82.2" stroke="#999" stroke-width="0.6"/>
<line x1="326.4" y1="86.6" x2="327.7" y2="86.6" stroke="#999" stroke-width="0.6"/>
<line x1="326.4" y1="91.0" x2="327.7" y2="91.0" stroke="#999" stroke-width="0.6"/>
<line x1="326.4" y1="95.4" x2="327.7" y2="95.4" stroke="#999" stroke-width="0.6"/>
<line x1="326.4" y1="99.8" x2="327.7" y2="99.8" stroke="#999" stroke-width="0.6"/>
<line x1="326.4" y1="104.2" x2="327.7" y2="104.2" stroke="#999" stroke-width="0.6"/>
<line x1="326.4" y1="108.6" x2="327.7" y2="108.6" stroke="#999" stroke-width="0.6"/>
<line x1="326.4" y1="113.0" x2="327.7" y2="113.0" stroke="#999" stroke-width="0.6"/>
<line x1="326.4" y1="117.4" x2="327.7" y2="117.4" stroke="#999" stroke-width="0.6"/>
<line x1="326.4" y1="121.8" x2="327.7" y2="121.8" stroke="#999" stroke-width="0.6"/>
<line x1="326.4" y1="126.2" x2="327.7" y2="126.2" stroke="#999" stroke-width="0.6"/>
<line x1="331.4" y1="127.7" x2="331.4" y2="129.3" stroke="#999" stroke-width="0.6"/>
<line x1="336.0" y1="127.7" x2="336.0" y2="129.3" stroke="#999" stroke-width="0.6"/>
<line x1="340.6" y1="127.7" x2="340.6" y2="129.3" stroke="#999" stroke-width="0.6"/>
<line x1="345.2" y1="127.7" x2="345.2" y2="129.3" stroke="#999" stroke-width="0.6"/>
<line x1="349.8" y1="127.7" x2="349.8" y2="129.3" stroke="#999" stroke-width="0.6"/>
<line x1="354.4" y1="127.7" x2="354.4" y2="129.3" stroke="#999" stroke-width="0.6"/>
<line x1="359.0" y1="127.7" x2="359.0" y2="129.3" stroke="#999" stroke-width="0.6"/>
<line x1="363.6" y1="127.7" x2="363.6" y2="129.3" stroke="#999" stroke-width="0.6"/>
<line x1="368.2" y1="127.7" x2="368.2" y2="129.3" stroke="#999" stroke-width="0.6"/>
<line x1="372.8" y1="127.7" x2="372.8" y2="129.3" stroke="#999" stroke-width="0.6"/>
<line x1="377.4" y1="127.7" x2="377.4" y2="129.3" stroke="#999" stroke-width="0.6"/>
<line x1="382.0" y1="127.7" x2="382.0" y2="129.3" stroke="#999" stroke-width="0.6"/>
<line x1="386.6" y1="127.7" x2="386.6" y2="129.3" stroke="#999" stroke-width="0.6"/>
<line x1="391.2" y1="127.7" x2="391.2" y2="129.3" stroke="#999" stroke-width="0.6"/>
<line x1="395.8" y1="127.7" x2="395.8" y2="129.3" stroke="#999" stroke-width="0.6"/>
<line x1="400.4" y1="127.7" x2="400.4" y2="129.3" stroke="#999" stroke-width="0.6"/>
<line x1="405.0" y1="127.7" x2="405.0" y2="129.3" stroke="#999" stroke-width="0.6"/>
<line x1="409.6" y1="127.7" x2="409.6" y2="129.3" stroke="#999" stroke-width="0.6"/>
<line x1="414.2" y1="127.7" x2="414.2" y2="129.3" stroke="#999" stroke-width="0.6"/>
<line x1="418.8" y1="127.7" x2="418.8" y2="129.3" stroke="#999" stroke-width="0.6"/>
<line x1="423.4" y1="127.7" x2="423.4" y2="129.3" stroke="#999" stroke-width="0.6"/>
<line x1="324.79999999999995" y1="44" x2="327.4" y2="44" stroke="#222" stroke-width="1"/>
<text x="317.79999999999995" y="47.7" font-size="8.2" text-anchor="end" fill="#1a1a1a">10</text>
<text x="318.0" y="44.4" font-size="6" text-rendering="geometricPrecision" fill="#1a1a1a">5</text>
<line x1="324.79999999999995" y1="65.3" x2="327.4" y2="65.3" stroke="#222" stroke-width="1"/>
<text x="317.79999999999995" y="69.0" font-size="8.2" text-anchor="end" fill="#1a1a1a">10</text>
<text x="318.0" y="65.7" font-size="6" text-rendering="geometricPrecision" fill="#1a1a1a">4</text>
<line x1="324.79999999999995" y1="88.2" x2="327.4" y2="88.2" stroke="#222" stroke-width="1"/>
<text x="317.79999999999995" y="91.9" font-size="8.2" text-anchor="end" fill="#1a1a1a">10</text>
<text x="318.0" y="88.60000000000001" font-size="6" text-rendering="geometricPrecision" fill="#1a1a1a">3</text>
<line x1="324.79999999999995" y1="110.3" x2="327.4" y2="110.3" stroke="#222" stroke-width="1"/>
<text x="318.4" y="113.6" font-size="8.2" text-anchor="end" fill="#1a1a1a">0</text>
<path d="M324.79999999999995,107.8 h2.6 M325.4,109.1 h2 M324.4,110.3 h3 M325.4,111.5 h2 M324.79999999999995,112.8 h2.6" stroke="#111" stroke-width="0.8"/>
<text x="343.4" y="140.2" font-size="8.2" text-anchor="middle" fill="#1a1a1a">0</text>
<path d="M340.9,127.7 v2.2 M342.2,127.7 v1.8 M343.4,127.7 v2.6 M344.59999999999997,127.7 v1.8 M345.9,127.7 v2.2" stroke="#111" stroke-width="0.8"/>
<text x="387.3" y="140.2" font-size="8.2" text-anchor="end" fill="#1a1a1a">10</text>
<text x="387.5" y="136.8" font-size="6" text-rendering="geometricPrecision" fill="#1a1a1a">3</text>
<text x="417.3" y="140.2" font-size="8.2" text-anchor="end" fill="#1a1a1a">10</text>
<text x="417.5" y="136.8" font-size="6" text-rendering="geometricPrecision" fill="#1a1a1a">4</text>
<text x="330.6" y="47.3" font-size="8.4" textLength="14.8" lengthAdjust="spacingAndGlyphs" fill="#2a2a2a">0.77</text>
<text x="396.6" y="47.3" font-size="8.4" textLength="14.8" lengthAdjust="spacingAndGlyphs" fill="#2a2a2a">21.8</text>
<text x="331.6" y="120.1" font-size="8.4" textLength="14.8" lengthAdjust="spacingAndGlyphs" fill="#2a2a2a">15.0</text>
<text x="396.2" y="120.1" font-size="8.4" textLength="14.8" lengthAdjust="spacingAndGlyphs" fill="#2a2a2a">62.4</text>
<path d="M33.6,151 V122" stroke="#111" stroke-width="1" fill="none"/>
<path d="M30.8,124.5 L33.6,118 L36.4,124.5 Z" fill="#111"/>
<path d="M33.1,150.6 H64" stroke="#111" stroke-width="1" fill="none"/>
<path d="M62,147.8 L68.5,150.6 L62,153.4 Z" fill="#111"/>
<text transform="translate(37.3,115.8) rotate(-90)" font-size="9.8" textLength="21" lengthAdjust="spacingAndGlyphs" fill="#1a1a1a">BCMA</text>
<text x="71.6" y="153.5" font-size="9.6" textLength="28.6" lengthAdjust="spacingAndGlyphs" fill="#1a1a1a">GPRC5D</text>
<rect x="64.40" y="192.8" width="4.25" height="150.20" fill="#db8c15"/>
<rect x="64.40" y="343" width="4.25" height="5.30" fill="#a6042e"/>
<rect x="64.40" y="348.3" width="4.25" height="0.50" fill="#2c4a80"/>
<rect x="71.38" y="192.8" width="4.25" height="154.10" fill="#db8c15"/>
<rect x="71.38" y="346.9" width="4.25" height="1.90" fill="#a6042e"/>
<rect x="78.36" y="192.8" width="4.25" height="149.20" fill="#db8c15"/>
<rect x="78.36" y="342" width="4.25" height="3.40" fill="#a6042e"/>
<rect x="78.36" y="345.4" width="4.25" height="3.40" fill="#2c4a80"/>
<rect x="85.34" y="193.4" width="4.25" height="143.50" fill="#db8c15"/>
<rect x="85.34" y="336.9" width="4.25" height="1.90" fill="#a6042e"/>
<rect x="85.34" y="338.8" width="4.25" height="10.00" fill="#2c4a80"/>
<rect x="92.32" y="193.4" width="4.25" height="148.60" fill="#db8c15"/>
<rect x="92.32" y="342" width="4.25" height="4.20" fill="#a6042e"/>
<rect x="92.32" y="346.2" width="4.25" height="2.60" fill="#2c4a80"/>
<rect x="99.30" y="193.4" width="4.25" height="143.60" fill="#db8c15"/>
<rect x="99.30" y="337" width="4.25" height="1.20" fill="#a6042e"/>
<rect x="99.30" y="338.2" width="4.25" height="10.60" fill="#2c4a80"/>
<rect x="106.28" y="193.4" width="4.25" height="147.70" fill="#db8c15"/>
<rect x="106.28" y="341.1" width="4.25" height="1.70" fill="#a6042e"/>
<rect x="106.28" y="342.8" width="4.25" height="6.00" fill="#2c4a80"/>
<rect x="113.26" y="193.4" width="4.25" height="141.20" fill="#db8c15"/>
<rect x="113.26" y="334.6" width="4.25" height="8.90" fill="#a6042e"/>
<rect x="113.26" y="343.5" width="4.25" height="5.30" fill="#2c4a80"/>
<rect x="120.24" y="193.4" width="4.25" height="125.40" fill="#db8c15"/>
<rect x="120.24" y="318.8" width="4.25" height="1.20" fill="#a6042e"/>
<rect x="120.24" y="320" width="4.25" height="28.80" fill="#2c4a80"/>
<rect x="127.22" y="194.9" width="4.25" height="136.90" fill="#db8c15"/>
<rect x="127.22" y="331.8" width="4.25" height="9.40" fill="#a6042e"/>
<rect x="127.22" y="341.2" width="4.25" height="7.60" fill="#2c4a80"/>
<rect x="134.20" y="195.2" width="4.25" height="127.10" fill="#db8c15"/>
<rect x="134.20" y="322.3" width="4.25" height="21.50" fill="#a6042e"/>
<rect x="134.20" y="343.8" width="4.25" height="5.00" fill="#2c4a80"/>
<rect x="141.18" y="196.2" width="4.25" height="132.60" fill="#db8c15"/>
<rect x="141.18" y="328.8" width="4.25" height="12.60" fill="#a6042e"/>
<rect x="141.18" y="341.4" width="4.25" height="7.40" fill="#2c4a80"/>
<rect x="148.16" y="198" width="4.25" height="129.60" fill="#db8c15"/>
<rect x="148.16" y="327.6" width="4.25" height="17.90" fill="#a6042e"/>
<rect x="148.16" y="345.5" width="4.25" height="3.30" fill="#2c4a80"/>
<rect x="155.14" y="200.1" width="4.25" height="114.00" fill="#db8c15"/>
<rect x="155.14" y="314.1" width="4.25" height="25.60" fill="#a6042e"/>
<rect x="155.14" y="339.7" width="4.25" height="9.10" fill="#2c4a80"/>
<rect x="162.12" y="201.3" width="4.25" height="96.60" fill="#db8c15"/>
<rect x="162.12" y="297.9" width="4.25" height="4.80" fill="#a6042e"/>
<rect x="162.12" y="302.7" width="4.25" height="46.10" fill="#2c4a80"/>
<rect x="169.10" y="201.8" width="4.25" height="109.40" fill="#db8c15"/>
<rect x="169.10" y="311.2" width="4.25" height="31.40" fill="#a6042e"/>
<rect x="169.10" y="342.6" width="4.25" height="6.20" fill="#2c4a80"/>
<rect x="176.08" y="203" width="4.25" height="104.10" fill="#db8c15"/>
<rect x="176.08" y="307.1" width="4.25" height="2.90" fill="#a6042e"/>
<rect x="176.08" y="310" width="4.25" height="38.80" fill="#2c4a80"/>
<rect x="183.06" y="203" width="4.25" height="97.80" fill="#db8c15"/>
<rect x="183.06" y="300.8" width="4.25" height="43.00" fill="#a6042e"/>
<rect x="183.06" y="343.8" width="4.25" height="5.00" fill="#2c4a80"/>
<rect x="190.04" y="204.2" width="4.25" height="90.60" fill="#db8c15"/>
<rect x="190.04" y="294.8" width="4.25" height="11.10" fill="#a6042e"/>
<rect x="190.04" y="305.9" width="4.25" height="42.90" fill="#2c4a80"/>
<rect x="197.02" y="204.2" width="4.25" height="36.70" fill="#db8c15"/>
<rect x="197.02" y="240.9" width="4.25" height="87.20" fill="#a6042e"/>
<rect x="197.02" y="328.1" width="4.25" height="20.70" fill="#2c4a80"/>
<rect x="204.00" y="204.4" width="4.25" height="11.40" fill="#db8c15"/>
<rect x="204.00" y="215.8" width="4.25" height="133.00" fill="#2c4a80"/>
<rect x="210.98" y="204.9" width="4.25" height="109.20" fill="#db8c15"/>
<rect x="210.98" y="314.1" width="4.25" height="9.60" fill="#a6042e"/>
<rect x="210.98" y="323.7" width="4.25" height="25.10" fill="#2c4a80"/>
<rect x="217.96" y="206.4" width="4.25" height="108.20" fill="#db8c15"/>
<rect x="217.96" y="314.6" width="4.25" height="26.10" fill="#a6042e"/>
<rect x="217.96" y="340.7" width="4.25" height="8.10" fill="#2c4a80"/>
<rect x="224.94" y="206.8" width="4.25" height="104.90" fill="#db8c15"/>
<rect x="224.94" y="311.7" width="4.25" height="8.70" fill="#a6042e"/>
<rect x="224.94" y="320.4" width="4.25" height="28.40" fill="#2c4a80"/>
<rect x="231.92" y="207.6" width="4.25" height="110.40" fill="#db8c15"/>
<rect x="231.92" y="318" width="4.25" height="18.00" fill="#a6042e"/>
<rect x="231.92" y="336" width="4.25" height="12.80" fill="#2c4a80"/>
<rect x="238.90" y="208" width="4.25" height="92.30" fill="#db8c15"/>
<rect x="238.90" y="300.3" width="4.25" height="31.40" fill="#a6042e"/>
<rect x="238.90" y="331.7" width="4.25" height="17.10" fill="#2c4a80"/>
<rect x="245.88" y="216" width="4.25" height="34.30" fill="#db8c15"/>
<rect x="245.88" y="250.3" width="4.25" height="1.00" fill="#a6042e"/>
<rect x="245.88" y="251.3" width="4.25" height="97.50" fill="#2c4a80"/>
<rect x="252.86" y="217" width="4.25" height="36.70" fill="#db8c15"/>
<rect x="252.86" y="253.7" width="4.25" height="1.00" fill="#a6042e"/>
<rect x="252.86" y="254.7" width="4.25" height="94.10" fill="#2c4a80"/>
<rect x="259.84" y="218.2" width="4.25" height="101.00" fill="#db8c15"/>
<rect x="259.84" y="319.2" width="4.25" height="23.80" fill="#a6042e"/>
<rect x="259.84" y="343" width="4.25" height="5.80" fill="#2c4a80"/>
<rect x="266.82" y="218.9" width="4.25" height="3.60" fill="#db8c15"/>
<rect x="266.82" y="222.5" width="4.25" height="126.30" fill="#a6042e"/>
<rect x="273.80" y="221.3" width="4.25" height="84.30" fill="#db8c15"/>
<rect x="273.80" y="305.6" width="4.25" height="31.40" fill="#a6042e"/>
<rect x="273.80" y="337" width="4.25" height="11.80" fill="#2c4a80"/>
<rect x="280.78" y="227.1" width="4.25" height="60.70" fill="#db8c15"/>
<rect x="280.78" y="287.8" width="4.25" height="24.10" fill="#a6042e"/>
<rect x="280.78" y="311.9" width="4.25" height="36.90" fill="#2c4a80"/>
<rect x="287.76" y="227.9" width="4.25" height="55.80" fill="#db8c15"/>
<rect x="287.76" y="283.7" width="4.25" height="40.00" fill="#a6042e"/>
<rect x="287.76" y="323.7" width="4.25" height="25.10" fill="#2c4a80"/>
<rect x="294.74" y="230.3" width="4.25" height="29.20" fill="#db8c15"/>
<rect x="294.74" y="259.5" width="4.25" height="82.40" fill="#a6042e"/>
<rect x="294.74" y="341.9" width="4.25" height="6.90" fill="#2c4a80"/>
<rect x="301.72" y="231.5" width="4.25" height="39.10" fill="#db8c15"/>
<rect x="301.72" y="270.6" width="4.25" height="78.20" fill="#2c4a80"/>
<rect x="308.70" y="233.9" width="4.25" height="39.80" fill="#db8c15"/>
<rect x="308.70" y="273.7" width="4.25" height="33.30" fill="#a6042e"/>
<rect x="308.70" y="307" width="4.25" height="41.80" fill="#2c4a80"/>
<rect x="315.68" y="238.7" width="4.25" height="45.90" fill="#db8c15"/>
<rect x="315.68" y="284.6" width="4.25" height="37.90" fill="#a6042e"/>
<rect x="315.68" y="322.5" width="4.25" height="26.30" fill="#2c4a80"/>
<rect x="322.66" y="240.7" width="4.25" height="35.50" fill="#db8c15"/>
<rect x="322.66" y="276.2" width="4.25" height="68.80" fill="#a6042e"/>
<rect x="322.66" y="345" width="4.25" height="3.80" fill="#2c4a80"/>
<rect x="329.64" y="241" width="4.25" height="38.90" fill="#db8c15"/>
<rect x="329.64" y="279.9" width="4.25" height="35.80" fill="#a6042e"/>
<rect x="329.64" y="315.7" width="4.25" height="33.10" fill="#2c4a80"/>
<rect x="336.62" y="245.3" width="4.25" height="36.60" fill="#db8c15"/>
<rect x="336.62" y="281.9" width="4.25" height="23.30" fill="#a6042e"/>
<rect x="336.62" y="305.2" width="4.25" height="43.60" fill="#2c4a80"/>
<rect x="343.60" y="249.8" width="4.25" height="33.80" fill="#db8c15"/>
<rect x="343.60" y="283.6" width="4.25" height="46.90" fill="#a6042e"/>
<rect x="343.60" y="330.5" width="4.25" height="18.30" fill="#2c4a80"/>
<rect x="350.58" y="261.8" width="4.25" height="26.30" fill="#db8c15"/>
<rect x="350.58" y="288.1" width="4.25" height="39.30" fill="#a6042e"/>
<rect x="350.58" y="327.4" width="4.25" height="21.40" fill="#2c4a80"/>
<rect x="357.56" y="264.7" width="4.25" height="24.90" fill="#db8c15"/>
<rect x="357.56" y="289.6" width="4.25" height="42.90" fill="#a6042e"/>
<rect x="357.56" y="332.5" width="4.25" height="16.30" fill="#2c4a80"/>
<rect x="364.54" y="277.2" width="4.25" height="17.60" fill="#db8c15"/>
<rect x="364.54" y="294.8" width="4.25" height="38.00" fill="#a6042e"/>
<rect x="364.54" y="332.8" width="4.25" height="16.00" fill="#2c4a80"/>
<rect x="371.52" y="281.9" width="4.25" height="10.50" fill="#db8c15"/>
<rect x="371.52" y="292.4" width="4.25" height="50.70" fill="#a6042e"/>
<rect x="371.52" y="343.1" width="4.25" height="5.70" fill="#2c4a80"/>
<rect x="378.50" y="293" width="4.25" height="9.10" fill="#db8c15"/>
<rect x="378.50" y="302.1" width="4.25" height="29.80" fill="#a6042e"/>
<rect x="378.50" y="331.9" width="4.25" height="16.90" fill="#2c4a80"/>
<rect x="385.48" y="294.9" width="4.25" height="8.40" fill="#db8c15"/>
<rect x="385.48" y="303.3" width="4.25" height="22.00" fill="#a6042e"/>
<rect x="385.48" y="325.3" width="4.25" height="23.50" fill="#2c4a80"/>
<rect x="392.46" y="297.9" width="4.25" height="10.90" fill="#db8c15"/>
<rect x="392.46" y="308.8" width="4.25" height="23.30" fill="#a6042e"/>
<rect x="392.46" y="332.1" width="4.25" height="16.70" fill="#2c4a80"/>
<rect x="399.44" y="300.2" width="4.25" height="5.50" fill="#db8c15"/>
<rect x="399.44" y="305.7" width="4.25" height="11.20" fill="#a6042e"/>
<rect x="399.44" y="316.9" width="4.25" height="31.90" fill="#2c4a80"/>
<rect x="406.42" y="308.1" width="4.25" height="8.50" fill="#db8c15"/>
<rect x="406.42" y="316.6" width="4.25" height="17.20" fill="#a6042e"/>
<rect x="406.42" y="333.8" width="4.25" height="15.00" fill="#2c4a80"/>
<rect x="413.40" y="333.3" width="4.25" height="0.30" fill="#db8c15"/>
<rect x="413.40" y="333.6" width="4.25" height="15.20" fill="#a6042e"/>
<line x1="61.8" y1="190" x2="61.8" y2="349.5" stroke="#222" stroke-width="1.2"/>
<line x1="61.2" y1="349" x2="421" y2="349" stroke="#222" stroke-width="1.4"/>
<line x1="58" y1="348.8" x2="62" y2="348.8" stroke="#222" stroke-width="1"/>
<text x="56" y="351.7" font-size="8" text-anchor="end" fill="#222">0</text>
<line x1="58" y1="317.4" x2="62" y2="317.4" stroke="#222" stroke-width="1"/>
<text x="56" y="320.3" font-size="8" text-anchor="end" fill="#222">20</text>
<line x1="58" y1="285.9" x2="62" y2="285.9" stroke="#222" stroke-width="1"/>
<text x="56" y="288.8" font-size="8" text-anchor="end" fill="#222">40</text>
<line x1="58" y1="254.5" x2="62" y2="254.5" stroke="#222" stroke-width="1"/>
<text x="56" y="257.4" font-size="8" text-anchor="end" fill="#222">60</text>
<line x1="58" y1="223.0" x2="62" y2="223.0" stroke="#222" stroke-width="1"/>
<text x="56" y="225.9" font-size="8" text-anchor="end" fill="#222">80</text>
<line x1="58" y1="191.6" x2="62" y2="191.6" stroke="#222" stroke-width="1"/>
<text x="56" y="194.5" font-size="8" text-anchor="end" fill="#222">100</text>
<text transform="translate(37,297) rotate(-90)" font-size="9.6" textLength="56" lengthAdjust="spacingAndGlyphs" fill="#222">Plasma cells (%)</text>
<text x="215.2" y="361.2" font-size="9.3" textLength="53.7" lengthAdjust="spacingAndGlyphs" fill="#222">Patient samples</text>
<rect x="361" y="186.5" width="13.4" height="6.2" fill="#db8c15"/>
<text x="377.7" y="192.8" font-size="8.6" textLength="62" lengthAdjust="spacingAndGlyphs" fill="#222">GPRC5D<tspan dy="-3.3" font-size="5">+</tspan><tspan dy="3.3"> BCMA</tspan><tspan dy="-3.3" font-size="5">+</tspan></text>
<rect x="361" y="198.1" width="13.4" height="6.2" fill="#2c4a80"/>
<text x="377.7" y="204.4" font-size="8.6" textLength="62" lengthAdjust="spacingAndGlyphs" fill="#222">GPRC5D<tspan dy="-3.3" font-size="5">+</tspan><tspan dy="3.3"> BCMA</tspan><tspan dy="-3.3" font-size="5">-</tspan></text>
<rect x="361" y="209.7" width="13.4" height="6.2" fill="#a6042e"/>
<text x="377.7" y="216.0" font-size="8.6" textLength="62" lengthAdjust="spacingAndGlyphs" fill="#222">GPRC5D<tspan dy="-3.3" font-size="5">-</tspan><tspan dy="3.3"> BCMA</tspan><tspan dy="-3.3" font-size="5">+</tspan></text>
<text x="99" y="402.6" font-size="10" text-anchor="middle" textLength="68.7" lengthAdjust="spacingAndGlyphs" fill="#1a1a1a">H929 Wild type</text>
<text x="229.1" y="402.6" font-size="10" text-anchor="middle" textLength="81.6" lengthAdjust="spacingAndGlyphs" fill="#1a1a1a">H929 GPRC5D KO</text>
<text x="358.4" y="402.6" font-size="10" text-anchor="middle" textLength="72.2" lengthAdjust="spacingAndGlyphs" fill="#1a1a1a">H929 BCMA KO</text>
<text transform="translate(37,490) rotate(-90)" font-size="10.2" textLength="50" lengthAdjust="spacingAndGlyphs" fill="#1a1a1a">GPRC5D count</text>
<text transform="translate(37,626) rotate(-90)" font-size="10.2" textLength="42" lengthAdjust="spacingAndGlyphs" fill="#1a1a1a">BCMA count</text>
<path d="M66.50,518.9 L66.50,518.60 C67.60,518.12 71.52,517.40 73.10,515.70 C74.68,514.00 75.02,512.08 76.00,508.40 C76.98,504.72 78.25,498.52 79.00,493.60 C79.75,488.68 80.13,485.03 80.50,478.90 C80.87,472.77 80.72,461.70 81.20,456.80 C81.68,451.90 82.92,453.18 83.40,449.50 C83.88,445.82 83.73,438.52 84.10,434.70 C84.47,430.88 85.10,428.07 85.60,426.60 C86.10,425.13 86.73,425.28 87.10,425.90 C87.47,426.52 87.55,428.83 87.80,430.30 C88.05,431.77 88.42,431.50 88.60,434.70 C88.78,437.90 88.78,444.58 88.90,449.50 C89.02,454.42 88.98,459.30 89.30,464.20 C89.62,469.10 90.18,474.00 90.80,478.90 C91.42,483.80 92.27,489.43 93.00,493.60 C93.73,497.77 94.22,500.45 95.20,503.90 C96.18,507.35 97.55,511.85 98.90,514.30 C100.25,516.75 102.57,517.88 103.30,518.60 L103.30,518.9 Z" fill="#a8acb4" stroke="#444a58" stroke-width="0.9" stroke-linejoin="round"/>
<path d="M80.50,518.9 L80.50,518.60 C80.87,517.38 81.97,515.47 82.70,511.30 C83.43,507.13 84.28,499.00 84.90,493.60 C85.52,488.20 85.92,485.03 86.40,478.90 C86.88,472.77 87.32,463.45 87.80,456.80 C88.28,450.15 88.93,442.32 89.30,439.00 C89.67,435.68 89.63,438.47 90.00,436.90 C90.37,435.33 90.95,430.45 91.50,429.60 C92.05,428.75 92.80,430.95 93.30,431.80 C93.80,432.65 94.07,429.30 94.50,434.70 C94.93,440.10 95.42,456.83 95.90,464.20 C96.38,471.57 96.78,474.00 97.40,478.90 C98.02,483.80 98.73,489.43 99.60,493.60 C100.47,497.77 101.73,501.43 102.60,503.90 C103.47,506.37 103.95,506.67 104.80,508.40 C105.65,510.13 106.72,512.60 107.70,514.30 C108.68,516.00 110.20,517.88 110.70,518.60 L110.70,518.9 Z" fill="rgba(101,164,220,0.46)" stroke="#62a3e0" stroke-width="0.9" stroke-linejoin="round"/>
<line x1="45.2" y1="410.3" x2="45.2" y2="519.6" stroke="#1a1a1a" stroke-width="1.2"/>
<line x1="42.2" y1="518.9" x2="45.2" y2="518.9" stroke="#1a1a1a" stroke-width="0.9"/>
<line x1="43.400000000000006" y1="514.8" x2="45.2" y2="514.8" stroke="#444" stroke-width="0.7"/>
<line x1="43.400000000000006" y1="510.7" x2="45.2" y2="510.7" stroke="#444" stroke-width="0.7"/>
<line x1="43.400000000000006" y1="506.6" x2="45.2" y2="506.6" stroke="#444" stroke-width="0.7"/>
<line x1="43.400000000000006" y1="502.5" x2="45.2" y2="502.5" stroke="#444" stroke-width="0.7"/>
<line x1="42.2" y1="498.4" x2="45.2" y2="498.4" stroke="#1a1a1a" stroke-width="0.9"/>
<line x1="43.400000000000006" y1="494.3" x2="45.2" y2="494.3" stroke="#444" stroke-width="0.7"/>
<line x1="43.400000000000006" y1="490.2" x2="45.2" y2="490.2" stroke="#444" stroke-width="0.7"/>
<line x1="43.400000000000006" y1="486.1" x2="45.2" y2="486.1" stroke="#444" stroke-width="0.7"/>
<line x1="43.400000000000006" y1="482.0" x2="45.2" y2="482.0" stroke="#444" stroke-width="0.7"/>
<line x1="42.2" y1="477.9" x2="45.2" y2="477.9" stroke="#1a1a1a" stroke-width="0.9"/>
<line x1="43.400000000000006" y1="473.8" x2="45.2" y2="473.8" stroke="#444" stroke-width="0.7"/>
<line x1="43.400000000000006" y1="469.7" x2="45.2" y2="469.7" stroke="#444" stroke-width="0.7"/>
<line x1="43.400000000000006" y1="465.6" x2="45.2" y2="465.6" stroke="#444" stroke-width="0.7"/>
<line x1="43.400000000000006" y1="461.5" x2="45.2" y2="461.5" stroke="#444" stroke-width="0.7"/>
<line x1="42.2" y1="457.4" x2="45.2" y2="457.4" stroke="#1a1a1a" stroke-width="0.9"/>
<line x1="43.400000000000006" y1="453.3" x2="45.2" y2="453.3" stroke="#444" stroke-width="0.7"/>
<line x1="43.400000000000006" y1="449.2" x2="45.2" y2="449.2" stroke="#444" stroke-width="0.7"/>
<line x1="43.400000000000006" y1="445.1" x2="45.2" y2="445.1" stroke="#444" stroke-width="0.7"/>
<line x1="43.400000000000006" y1="441.0" x2="45.2" y2="441.0" stroke="#444" stroke-width="0.7"/>
<line x1="42.2" y1="436.9" x2="45.2" y2="436.9" stroke="#1a1a1a" stroke-width="0.9"/>
<line x1="43.400000000000006" y1="432.8" x2="45.2" y2="432.8" stroke="#444" stroke-width="0.7"/>
<line x1="43.400000000000006" y1="428.7" x2="45.2" y2="428.7" stroke="#444" stroke-width="0.7"/>
<line x1="43.400000000000006" y1="424.6" x2="45.2" y2="424.6" stroke="#444" stroke-width="0.7"/>
<line x1="43.400000000000006" y1="420.5" x2="45.2" y2="420.5" stroke="#444" stroke-width="0.7"/>
<line x1="42.2" y1="416.4" x2="45.2" y2="416.4" stroke="#1a1a1a" stroke-width="0.9"/>
<line x1="44.6" y1="518.9" x2="153" y2="518.9" stroke="#1a1a1a" stroke-width="1.3"/>
<line x1="45.2" y1="518.9" x2="45.2" y2="521.5" stroke="#1a1a1a" stroke-width="0.9"/>
<line x1="51.1" y1="518.9" x2="51.1" y2="520.5" stroke="#1a1a1a" stroke-width="0.7"/>
<line x1="54.6" y1="518.9" x2="54.6" y2="520.5" stroke="#1a1a1a" stroke-width="0.7"/>
<line x1="57.1" y1="518.9" x2="57.1" y2="520.5" stroke="#1a1a1a" stroke-width="0.7"/>
<line x1="59.0" y1="518.9" x2="59.0" y2="520.5" stroke="#1a1a1a" stroke-width="0.7"/>
<line x1="60.5" y1="518.9" x2="60.5" y2="520.5" stroke="#1a1a1a" stroke-width="0.7"/>
<line x1="61.8" y1="518.9" x2="61.8" y2="520.5" stroke="#1a1a1a" stroke-width="0.7"/>
<line x1="63.0" y1="518.9" x2="63.0" y2="520.5" stroke="#1a1a1a" stroke-width="0.7"/>
<line x1="64.0" y1="518.9" x2="64.0" y2="520.5" stroke="#1a1a1a" stroke-width="0.7"/>
<text x="43.7" y="532.5" font-size="8.6" text-anchor="middle" fill="#1a1a1a">10</text>
<text x="48.3" y="528.8" font-size="6" text-rendering="geometricPrecision" fill="#1a1a1a">0</text>
<line x1="63.9" y1="518.9" x2="63.9" y2="521.5" stroke="#1a1a1a" stroke-width="0.9"/>
<line x1="69.8" y1="518.9" x2="69.8" y2="520.5" stroke="#1a1a1a" stroke-width="0.7"/>
<line x1="73.3" y1="518.9" x2="73.3" y2="520.5" stroke="#1a1a1a" stroke-width="0.7"/>
<line x1="75.8" y1="518.9" x2="75.8" y2="520.5" stroke="#1a1a1a" stroke-width="0.7"/>
<line x1="77.7" y1="518.9" x2="77.7" y2="520.5" stroke="#1a1a1a" stroke-width="0.7"/>
<line x1="79.2" y1="518.9" x2="79.2" y2="520.5" stroke="#1a1a1a" stroke-width="0.7"/>
<line x1="80.5" y1="518.9" x2="80.5" y2="520.5" stroke="#1a1a1a" stroke-width="0.7"/>
<line x1="81.7" y1="518.9" x2="81.7" y2="520.5" stroke="#1a1a1a" stroke-width="0.7"/>
<line x1="82.7" y1="518.9" x2="82.7" y2="520.5" stroke="#1a1a1a" stroke-width="0.7"/>
<text x="63.4" y="532.5" font-size="8.6" text-anchor="middle" fill="#1a1a1a">10</text>
<text x="68.0" y="528.8" font-size="6" text-rendering="geometricPrecision" fill="#1a1a1a">1</text>
<line x1="83.6" y1="518.9" x2="83.6" y2="521.5" stroke="#1a1a1a" stroke-width="0.9"/>
<line x1="89.5" y1="518.9" x2="89.5" y2="520.5" stroke="#1a1a1a" stroke-width="0.7"/>
<line x1="93.0" y1="518.9" x2="93.0" y2="520.5" stroke="#1a1a1a" stroke-width="0.7"/>
<line x1="95.5" y1="518.9" x2="95.5" y2="520.5" stroke="#1a1a1a" stroke-width="0.7"/>
<line x1="97.4" y1="518.9" x2="97.4" y2="520.5" stroke="#1a1a1a" stroke-width="0.7"/>
<line x1="98.9" y1="518.9" x2="98.9" y2="520.5" stroke="#1a1a1a" stroke-width="0.7"/>
<line x1="100.2" y1="518.9" x2="100.2" y2="520.5" stroke="#1a1a1a" stroke-width="0.7"/>
<line x1="101.4" y1="518.9" x2="101.4" y2="520.5" stroke="#1a1a1a" stroke-width="0.7"/>
<line x1="102.4" y1="518.9" x2="102.4" y2="520.5" stroke="#1a1a1a" stroke-width="0.7"/>
<text x="83.1" y="532.5" font-size="8.6" text-anchor="middle" fill="#1a1a1a">10</text>
<text x="87.7" y="528.8" font-size="6" text-rendering="geometricPrecision" fill="#1a1a1a">2</text>
<line x1="103.3" y1="518.9" x2="103.3" y2="521.5" stroke="#1a1a1a" stroke-width="0.9"/>
<line x1="109.2" y1="518.9" x2="109.2" y2="520.5" stroke="#1a1a1a" stroke-width="0.7"/>
<line x1="112.7" y1="518.9" x2="112.7" y2="520.5" stroke="#1a1a1a" stroke-width="0.7"/>
<line x1="115.2" y1="518.9" x2="115.2" y2="520.5" stroke="#1a1a1a" stroke-width="0.7"/>
<line x1="117.1" y1="518.9" x2="117.1" y2="520.5" stroke="#1a1a1a" stroke-width="0.7"/>
<line x1="118.6" y1="518.9" x2="118.6" y2="520.5" stroke="#1a1a1a" stroke-width="0.7"/>
<line x1="119.9" y1="518.9" x2="119.9" y2="520.5" stroke="#1a1a1a" stroke-width="0.7"/>
<line x1="121.1" y1="518.9" x2="121.1" y2="520.5" stroke="#1a1a1a" stroke-width="0.7"/>
<line x1="122.1" y1="518.9" x2="122.1" y2="520.5" stroke="#1a1a1a" stroke-width="0.7"/>
<text x="102.8" y="532.5" font-size="8.6" text-anchor="middle" fill="#1a1a1a">10</text>
<text x="107.4" y="528.8" font-size="6" text-rendering="geometricPrecision" fill="#1a1a1a">3</text>
<line x1="123.0" y1="518.9" x2="123.0" y2="521.5" stroke="#1a1a1a" stroke-width="0.9"/>
<line x1="128.9" y1="518.9" x2="128.9" y2="520.5" stroke="#1a1a1a" stroke-width="0.7"/>
<line x1="132.4" y1="518.9" x2="132.4" y2="520.5" stroke="#1a1a1a" stroke-width="0.7"/>
<line x1="134.9" y1="518.9" x2="134.9" y2="520.5" stroke="#1a1a1a" stroke-width="0.7"/>
<line x1="136.8" y1="518.9" x2="136.8" y2="520.5" stroke="#1a1a1a" stroke-width="0.7"/>
<line x1="138.3" y1="518.9" x2="138.3" y2="520.5" stroke="#1a1a1a" stroke-width="0.7"/>
<line x1="139.6" y1="518.9" x2="139.6" y2="520.5" stroke="#1a1a1a" stroke-width="0.7"/>
<line x1="140.8" y1="518.9" x2="140.8" y2="520.5" stroke="#1a1a1a" stroke-width="0.7"/>
<line x1="141.8" y1="518.9" x2="141.8" y2="520.5" stroke="#1a1a1a" stroke-width="0.7"/>
<text x="122.5" y="532.5" font-size="8.6" text-anchor="middle" fill="#1a1a1a">10</text>
<text x="127.1" y="528.8" font-size="6" text-rendering="geometricPrecision" fill="#1a1a1a">4</text>
<line x1="142.7" y1="518.9" x2="142.7" y2="521.5" stroke="#1a1a1a" stroke-width="0.9"/>
<text x="142.2" y="532.5" font-size="8.6" text-anchor="middle" fill="#1a1a1a">10</text>
<text x="146.8" y="528.8" font-size="6" text-rendering="geometricPrecision" fill="#1a1a1a">5</text>
<line x1="45.2" y1="518.5" x2="153" y2="518.5" stroke="#6aa8e4" stroke-width="0.9"/>
<path d="M200.40,518.9 L200.40,518.60 C201.00,517.17 202.90,514.27 204.00,510.00 C205.10,505.73 206.03,501.20 207.00,493.00 C207.97,484.80 209.02,469.80 209.80,460.80 C210.58,451.80 211.03,440.80 211.70,439.00 C212.37,437.20 213.00,449.50 213.80,450.00 C214.60,450.50 215.60,438.87 216.50,442.00 C217.40,445.13 218.45,460.80 219.20,468.80 C219.95,476.80 220.32,483.72 221.00,490.00 C221.68,496.28 222.02,501.73 223.30,506.50 C224.58,511.27 227.80,516.58 228.70,518.60 L228.70,518.9 Z" fill="#a8acb4" stroke="#444a58" stroke-width="0.9" stroke-linejoin="round"/>
<path d="M201.00,518.9 L201.00,518.60 C201.80,515.67 204.55,506.60 205.80,501.00 C207.05,495.40 207.60,491.70 208.50,485.00 C209.40,478.30 210.32,467.08 211.20,460.80 C212.08,454.52 212.92,451.57 213.80,447.30 C214.68,443.03 215.60,435.20 216.50,435.20 C217.40,435.20 218.20,438.55 219.20,447.30 C220.20,456.05 221.15,476.92 222.50,487.70 C223.85,498.48 225.60,506.85 227.30,512.00 C229.00,517.15 231.80,517.50 232.70,518.60 L232.70,518.9 Z" fill="rgba(101,164,220,0.46)" stroke="#62a3e0" stroke-width="0.9" stroke-linejoin="round"/>
<line x1="174.8" y1="411.5" x2="174.8" y2="519.6" stroke="#1a1a1a" stroke-width="1.2"/>
<line x1="171.8" y1="518.9" x2="174.8" y2="518.9" stroke="#1a1a1a" stroke-width="0.9"/>
<line x1="173.0" y1="514.8" x2="174.8" y2="514.8" stroke="#444" stroke-width="0.7"/>
<line x1="173.0" y1="510.7" x2="174.8" y2="510.7" stroke="#444" stroke-width="0.7"/>
<line x1="173.0" y1="506.6" x2="174.8" y2="506.6" stroke="#444" stroke-width="0.7"/>
<line x1="173.0" y1="502.5" x2="174.8" y2="502.5" stroke="#444" stroke-width="0.7"/>
<line x1="171.8" y1="498.4" x2="174.8" y2="498.4" stroke="#1a1a1a" stroke-width="0.9"/>
<line x1="173.0" y1="494.3" x2="174.8" y2="494.3" stroke="#444" stroke-width="0.7"/>
<line x1="173.0" y1="490.2" x2="174.8" y2="490.2" stroke="#444" stroke-width="0.7"/>
<line x1="173.0" y1="486.1" x2="174.8" y2="486.1" stroke="#444" stroke-width="0.7"/>
<line x1="173.0" y1="482.0" x2="174.8" y2="482.0" stroke="#444" stroke-width="0.7"/>
<line x1="171.8" y1="477.9" x2="174.8" y2="477.9" stroke="#1a1a1a" stroke-width="0.9"/>
<line x1="173.0" y1="473.8" x2="174.8" y2="473.8" stroke="#444" stroke-width="0.7"/>
<line x1="173.0" y1="469.7" x2="174.8" y2="469.7" stroke="#444" stroke-width="0.7"/>
<line x1="173.0" y1="465.6" x2="174.8" y2="465.6" stroke="#444" stroke-width="0.7"/>
<line x1="173.0" y1="461.5" x2="174.8" y2="461.5" stroke="#444" stroke-width="0.7"/>
<line x1="171.8" y1="457.4" x2="174.8" y2="457.4" stroke="#1a1a1a" stroke-width="0.9"/>
<line x1="173.0" y1="453.3" x2="174.8" y2="453.3" stroke="#444" stroke-width="0.7"/>
<line x1="173.0" y1="449.2" x2="174.8" y2="449.2" stroke="#444" stroke-width="0.7"/>
<line x1="173.0" y1="445.1" x2="174.8" y2="445.1" stroke="#444" stroke-width="0.7"/>
<line x1="173.0" y1="441.0" x2="174.8" y2="441.0" stroke="#444" stroke-width="0.7"/>
<line x1="171.8" y1="436.9" x2="174.8" y2="436.9" stroke="#1a1a1a" stroke-width="0.9"/>
<line x1="173.0" y1="432.8" x2="174.8" y2="432.8" stroke="#444" stroke-width="0.7"/>
<line x1="173.0" y1="428.7" x2="174.8" y2="428.7" stroke="#444" stroke-width="0.7"/>
<line x1="173.0" y1="424.6" x2="174.8" y2="424.6" stroke="#444" stroke-width="0.7"/>
<line x1="173.0" y1="420.5" x2="174.8" y2="420.5" stroke="#444" stroke-width="0.7"/>
<line x1="171.8" y1="416.4" x2="174.8" y2="416.4" stroke="#1a1a1a" stroke-width="0.9"/>
<line x1="174.20000000000002" y1="518.9" x2="282.5" y2="518.9" stroke="#1a1a1a" stroke-width="1.3"/>
<line x1="174.8" y1="518.9" x2="174.8" y2="521.5" stroke="#1a1a1a" stroke-width="0.9"/>
<line x1="180.7" y1="518.9" x2="180.7" y2="520.5" stroke="#1a1a1a" stroke-width="0.7"/>
<line x1="184.2" y1="518.9" x2="184.2" y2="520.5" stroke="#1a1a1a" stroke-width="0.7"/>
<line x1="186.7" y1="518.9" x2="186.7" y2="520.5" stroke="#1a1a1a" stroke-width="0.7"/>
<line x1="188.6" y1="518.9" x2="188.6" y2="520.5" stroke="#1a1a1a" stroke-width="0.7"/>
<line x1="190.1" y1="518.9" x2="190.1" y2="520.5" stroke="#1a1a1a" stroke-width="0.7"/>
<line x1="191.4" y1="518.9" x2="191.4" y2="520.5" stroke="#1a1a1a" stroke-width="0.7"/>
<line x1="192.6" y1="518.9" x2="192.6" y2="520.5" stroke="#1a1a1a" stroke-width="0.7"/>
<line x1="193.6" y1="518.9" x2="193.6" y2="520.5" stroke="#1a1a1a" stroke-width="0.7"/>
<text x="173.3" y="532.5" font-size="8.6" text-anchor="middle" fill="#1a1a1a">10</text>
<text x="177.9" y="528.8" font-size="6" text-rendering="geometricPrecision" fill="#1a1a1a">0</text>
<line x1="193.5" y1="518.9" x2="193.5" y2="521.5" stroke="#1a1a1a" stroke-width="0.9"/>
<line x1="199.4" y1="518.9" x2="199.4" y2="520.5" stroke="#1a1a1a" stroke-width="0.7"/>
<line x1="202.9" y1="518.9" x2="202.9" y2="520.5" stroke="#1a1a1a" stroke-width="0.7"/>
<line x1="205.4" y1="518.9" x2="205.4" y2="520.5" stroke="#1a1a1a" stroke-width="0.7"/>
<line x1="207.3" y1="518.9" x2="207.3" y2="520.5" stroke="#1a1a1a" stroke-width="0.7"/>
<line x1="208.8" y1="518.9" x2="208.8" y2="520.5" stroke="#1a1a1a" stroke-width="0.7"/>
<line x1="210.1" y1="518.9" x2="210.1" y2="520.5" stroke="#1a1a1a" stroke-width="0.7"/>
<line x1="211.3" y1="518.9" x2="211.3" y2="520.5" stroke="#1a1a1a" stroke-width="0.7"/>
<line x1="212.3" y1="518.9" x2="212.3" y2="520.5" stroke="#1a1a1a" stroke-width="0.7"/>
<text x="193.0" y="532.5" font-size="8.6" text-anchor="middle" fill="#1a1a1a">10</text>
<text x="197.6" y="528.8" font-size="6" text-rendering="geometricPrecision" fill="#1a1a1a">1</text>
<line x1="213.2" y1="518.9" x2="213.2" y2="521.5" stroke="#1a1a1a" stroke-width="0.9"/>
<line x1="219.1" y1="518.9" x2="219.1" y2="520.5" stroke="#1a1a1a" stroke-width="0.7"/>
<line x1="222.6" y1="518.9" x2="222.6" y2="520.5" stroke="#1a1a1a" stroke-width="0.7"/>
<line x1="225.1" y1="518.9" x2="225.1" y2="520.5" stroke="#1a1a1a" stroke-width="0.7"/>
<line x1="227.0" y1="518.9" x2="227.0" y2="520.5" stroke="#1a1a1a" stroke-width="0.7"/>
<line x1="228.5" y1="518.9" x2="228.5" y2="520.5" stroke="#1a1a1a" stroke-width="0.7"/>
<line x1="229.8" y1="518.9" x2="229.8" y2="520.5" stroke="#1a1a1a" stroke-width="0.7"/>
<line x1="231.0" y1="518.9" x2="231.0" y2="520.5" stroke="#1a1a1a" stroke-width="0.7"/>
<line x1="232.0" y1="518.9" x2="232.0" y2="520.5" stroke="#1a1a1a" stroke-width="0.7"/>
<text x="212.7" y="532.5" font-size="8.6" text-anchor="middle" fill="#1a1a1a">10</text>
<text x="217.3" y="528.8" font-size="6" text-rendering="geometricPrecision" fill="#1a1a1a">2</text>
<line x1="232.9" y1="518.9" x2="232.9" y2="521.5" stroke="#1a1a1a" stroke-width="0.9"/>
<line x1="238.8" y1="518.9" x2="238.8" y2="520.5" stroke="#1a1a1a" stroke-width="0.7"/>
<line x1="242.3" y1="518.9" x2="242.3" y2="520.5" stroke="#1a1a1a" stroke-width="0.7"/>
<line x1="244.8" y1="518.9" x2="244.8" y2="520.5" stroke="#1a1a1a" stroke-width="0.7"/>
<line x1="246.7" y1="518.9" x2="246.7" y2="520.5" stroke="#1a1a1a" stroke-width="0.7"/>
<line x1="248.2" y1="518.9" x2="248.2" y2="520.5" stroke="#1a1a1a" stroke-width="0.7"/>
<line x1="249.5" y1="518.9" x2="249.5" y2="520.5" stroke="#1a1a1a" stroke-width="0.7"/>
<line x1="250.7" y1="518.9" x2="250.7" y2="520.5" stroke="#1a1a1a" stroke-width="0.7"/>
<line x1="251.7" y1="518.9" x2="251.7" y2="520.5" stroke="#1a1a1a" stroke-width="0.7"/>
<text x="232.4" y="532.5" font-size="8.6" text-anchor="middle" fill="#1a1a1a">10</text>
<text x="237.0" y="528.8" font-size="6" text-rendering="geometricPrecision" fill="#1a1a1a">3</text>
<line x1="252.6" y1="518.9" x2="252.6" y2="521.5" stroke="#1a1a1a" stroke-width="0.9"/>
<line x1="258.5" y1="518.9" x2="258.5" y2="520.5" stroke="#1a1a1a" stroke-width="0.7"/>
<line x1="262.0" y1="518.9" x2="262.0" y2="520.5" stroke="#1a1a1a" stroke-width="0.7"/>
<line x1="264.5" y1="518.9" x2="264.5" y2="520.5" stroke="#1a1a1a" stroke-width="0.7"/>
<line x1="266.4" y1="518.9" x2="266.4" y2="520.5" stroke="#1a1a1a" stroke-width="0.7"/>
<line x1="267.9" y1="518.9" x2="267.9" y2="520.5" stroke="#1a1a1a" stroke-width="0.7"/>
<line x1="269.2" y1="518.9" x2="269.2" y2="520.5" stroke="#1a1a1a" stroke-width="0.7"/>
<line x1="270.4" y1="518.9" x2="270.4" y2="520.5" stroke="#1a1a1a" stroke-width="0.7"/>
<line x1="271.4" y1="518.9" x2="271.4" y2="520.5" stroke="#1a1a1a" stroke-width="0.7"/>
<text x="252.1" y="532.5" font-size="8.6" text-anchor="middle" fill="#1a1a1a">10</text>
<text x="256.7" y="528.8" font-size="6" text-rendering="geometricPrecision" fill="#1a1a1a">4</text>
<line x1="272.3" y1="518.9" x2="272.3" y2="521.5" stroke="#1a1a1a" stroke-width="0.9"/>
<text x="271.8" y="532.5" font-size="8.6" text-anchor="middle" fill="#1a1a1a">10</text>
<text x="276.4" y="528.8" font-size="6" text-rendering="geometricPrecision" fill="#1a1a1a">5</text>
<line x1="174.8" y1="518.5" x2="282.5" y2="518.5" stroke="#6aa8e4" stroke-width="0.9"/>
<path d="M322.30,518.9 L322.30,518.60 C324.08,516.58 330.53,511.65 333.00,506.50 C335.47,501.35 335.97,497.57 337.10,487.70 C338.23,477.83 339.12,455.83 339.80,447.30 C340.48,438.77 340.75,436.72 341.20,436.50 C341.65,436.28 342.07,445.63 342.50,446.00 C342.93,446.37 343.38,438.53 343.80,438.70 C344.22,438.87 344.32,441.98 345.00,447.00 C345.68,452.02 346.97,460.67 347.90,468.80 C348.83,476.93 349.48,488.17 350.60,495.80 C351.72,503.43 353.37,510.80 354.60,514.60 C355.83,518.40 357.43,517.93 358.00,518.60 L358.00,518.9 Z" fill="#a8acb4" stroke="#444a58" stroke-width="0.9" stroke-linejoin="round"/>
<path d="M330.40,518.9 L330.40,518.60 C331.97,516.58 337.57,511.65 339.80,506.50 C342.03,501.35 342.68,495.32 343.80,487.70 C344.92,480.08 345.68,468.20 346.50,460.80 C347.32,453.40 347.88,444.65 348.70,443.30 C349.52,441.95 350.42,446.65 351.40,452.70 C352.38,458.75 353.38,471.08 354.60,479.60 C355.82,488.12 357.35,497.97 358.70,503.80 C360.05,509.63 361.15,512.13 362.70,514.60 C364.25,517.07 367.12,517.93 368.00,518.60 L368.00,518.9 Z" fill="rgba(101,164,220,0.46)" stroke="#62a3e0" stroke-width="0.9" stroke-linejoin="round"/>
<line x1="304.3" y1="408.5" x2="304.3" y2="519.6" stroke="#1a1a1a" stroke-width="1.2"/>
<line x1="301.3" y1="518.9" x2="304.3" y2="518.9" stroke="#1a1a1a" stroke-width="0.9"/>
<line x1="302.5" y1="514.8" x2="304.3" y2="514.8" stroke="#444" stroke-width="0.7"/>
<line x1="302.5" y1="510.7" x2="304.3" y2="510.7" stroke="#444" stroke-width="0.7"/>
<line x1="302.5" y1="506.6" x2="304.3" y2="506.6" stroke="#444" stroke-width="0.7"/>
<line x1="302.5" y1="502.5" x2="304.3" y2="502.5" stroke="#444" stroke-width="0.7"/>
<line x1="301.3" y1="498.4" x2="304.3" y2="498.4" stroke="#1a1a1a" stroke-width="0.9"/>
<line x1="302.5" y1="494.3" x2="304.3" y2="494.3" stroke="#444" stroke-width="0.7"/>
<line x1="302.5" y1="490.2" x2="304.3" y2="490.2" stroke="#444" stroke-width="0.7"/>
<line x1="302.5" y1="486.1" x2="304.3" y2="486.1" stroke="#444" stroke-width="0.7"/>
<line x1="302.5" y1="482.0" x2="304.3" y2="482.0" stroke="#444" stroke-width="0.7"/>
<line x1="301.3" y1="477.9" x2="304.3" y2="477.9" stroke="#1a1a1a" stroke-width="0.9"/>
<line x1="302.5" y1="473.8" x2="304.3" y2="473.8" stroke="#444" stroke-width="0.7"/>
<line x1="302.5" y1="469.7" x2="304.3" y2="469.7" stroke="#444" stroke-width="0.7"/>
<line x1="302.5" y1="465.6" x2="304.3" y2="465.6" stroke="#444" stroke-width="0.7"/>
<line x1="302.5" y1="461.5" x2="304.3" y2="461.5" stroke="#444" stroke-width="0.7"/>
<line x1="301.3" y1="457.4" x2="304.3" y2="457.4" stroke="#1a1a1a" stroke-width="0.9"/>
<line x1="302.5" y1="453.3" x2="304.3" y2="453.3" stroke="#444" stroke-width="0.7"/>
<line x1="302.5" y1="449.2" x2="304.3" y2="449.2" stroke="#444" stroke-width="0.7"/>
<line x1="302.5" y1="445.1" x2="304.3" y2="445.1" stroke="#444" stroke-width="0.7"/>
<line x1="302.5" y1="441.0" x2="304.3" y2="441.0" stroke="#444" stroke-width="0.7"/>
<line x1="301.3" y1="436.9" x2="304.3" y2="436.9" stroke="#1a1a1a" stroke-width="0.9"/>
<line x1="302.5" y1="432.8" x2="304.3" y2="432.8" stroke="#444" stroke-width="0.7"/>
<line x1="302.5" y1="428.7" x2="304.3" y2="428.7" stroke="#444" stroke-width="0.7"/>
<line x1="302.5" y1="424.6" x2="304.3" y2="424.6" stroke="#444" stroke-width="0.7"/>
<line x1="302.5" y1="420.5" x2="304.3" y2="420.5" stroke="#444" stroke-width="0.7"/>
<line x1="301.3" y1="416.4" x2="304.3" y2="416.4" stroke="#1a1a1a" stroke-width="0.9"/>
<line x1="302.5" y1="412.3" x2="304.3" y2="412.3" stroke="#444" stroke-width="0.7"/>
<line x1="303.7" y1="518.9" x2="412.5" y2="518.9" stroke="#1a1a1a" stroke-width="1.3"/>
<line x1="304.3" y1="518.9" x2="304.3" y2="521.5" stroke="#1a1a1a" stroke-width="0.9"/>
<line x1="310.2" y1="518.9" x2="310.2" y2="520.5" stroke="#1a1a1a" stroke-width="0.7"/>
<line x1="313.7" y1="518.9" x2="313.7" y2="520.5" stroke="#1a1a1a" stroke-width="0.7"/>
<line x1="316.2" y1="518.9" x2="316.2" y2="520.5" stroke="#1a1a1a" stroke-width="0.7"/>
<line x1="318.1" y1="518.9" x2="318.1" y2="520.5" stroke="#1a1a1a" stroke-width="0.7"/>
<line x1="319.6" y1="518.9" x2="319.6" y2="520.5" stroke="#1a1a1a" stroke-width="0.7"/>
<line x1="320.9" y1="518.9" x2="320.9" y2="520.5" stroke="#1a1a1a" stroke-width="0.7"/>
<line x1="322.1" y1="518.9" x2="322.1" y2="520.5" stroke="#1a1a1a" stroke-width="0.7"/>
<line x1="323.1" y1="518.9" x2="323.1" y2="520.5" stroke="#1a1a1a" stroke-width="0.7"/>
<text x="302.8" y="532.5" font-size="8.6" text-anchor="middle" fill="#1a1a1a">10</text>
<text x="307.4" y="528.8" font-size="6" text-rendering="geometricPrecision" fill="#1a1a1a">0</text>
<line x1="323.0" y1="518.9" x2="323.0" y2="521.5" stroke="#1a1a1a" stroke-width="0.9"/>
<line x1="328.9" y1="518.9" x2="328.9" y2="520.5" stroke="#1a1a1a" stroke-width="0.7"/>
<line x1="332.4" y1="518.9" x2="332.4" y2="520.5" stroke="#1a1a1a" stroke-width="0.7"/>
<line x1="334.9" y1="518.9" x2="334.9" y2="520.5" stroke="#1a1a1a" stroke-width="0.7"/>
<line x1="336.8" y1="518.9" x2="336.8" y2="520.5" stroke="#1a1a1a" stroke-width="0.7"/>
<line x1="338.3" y1="518.9" x2="338.3" y2="520.5" stroke="#1a1a1a" stroke-width="0.7"/>
<line x1="339.6" y1="518.9" x2="339.6" y2="520.5" stroke="#1a1a1a" stroke-width="0.7"/>
<line x1="340.8" y1="518.9" x2="340.8" y2="520.5" stroke="#1a1a1a" stroke-width="0.7"/>
<line x1="341.8" y1="518.9" x2="341.8" y2="520.5" stroke="#1a1a1a" stroke-width="0.7"/>
<text x="322.5" y="532.5" font-size="8.6" text-anchor="middle" fill="#1a1a1a">10</text>
<text x="327.1" y="528.8" font-size="6" text-rendering="geometricPrecision" fill="#1a1a1a">1</text>
<line x1="342.7" y1="518.9" x2="342.7" y2="521.5" stroke="#1a1a1a" stroke-width="0.9"/>
<line x1="348.6" y1="518.9" x2="348.6" y2="520.5" stroke="#1a1a1a" stroke-width="0.7"/>
<line x1="352.1" y1="518.9" x2="352.1" y2="520.5" stroke="#1a1a1a" stroke-width="0.7"/>
<line x1="354.6" y1="518.9" x2="354.6" y2="520.5" stroke="#1a1a1a" stroke-width="0.7"/>
<line x1="356.5" y1="518.9" x2="356.5" y2="520.5" stroke="#1a1a1a" stroke-width="0.7"/>
<line x1="358.0" y1="518.9" x2="358.0" y2="520.5" stroke="#1a1a1a" stroke-width="0.7"/>
<line x1="359.3" y1="518.9" x2="359.3" y2="520.5" stroke="#1a1a1a" stroke-width="0.7"/>
<line x1="360.5" y1="518.9" x2="360.5" y2="520.5" stroke="#1a1a1a" stroke-width="0.7"/>
<line x1="361.5" y1="518.9" x2="361.5" y2="520.5" stroke="#1a1a1a" stroke-width="0.7"/>
<text x="342.2" y="532.5" font-size="8.6" text-anchor="middle" fill="#1a1a1a">10</text>
<text x="346.8" y="528.8" font-size="6" text-rendering="geometricPrecision" fill="#1a1a1a">2</text>
<line x1="362.4" y1="518.9" x2="362.4" y2="521.5" stroke="#1a1a1a" stroke-width="0.9"/>
<line x1="368.3" y1="518.9" x2="368.3" y2="520.5" stroke="#1a1a1a" stroke-width="0.7"/>
<line x1="371.8" y1="518.9" x2="371.8" y2="520.5" stroke="#1a1a1a" stroke-width="0.7"/>
<line x1="374.3" y1="518.9" x2="374.3" y2="520.5" stroke="#1a1a1a" stroke-width="0.7"/>
<line x1="376.2" y1="518.9" x2="376.2" y2="520.5" stroke="#1a1a1a" stroke-width="0.7"/>
<line x1="377.7" y1="518.9" x2="377.7" y2="520.5" stroke="#1a1a1a" stroke-width="0.7"/>
<line x1="379.0" y1="518.9" x2="379.0" y2="520.5" stroke="#1a1a1a" stroke-width="0.7"/>
<line x1="380.2" y1="518.9" x2="380.2" y2="520.5" stroke="#1a1a1a" stroke-width="0.7"/>
<line x1="381.2" y1="518.9" x2="381.2" y2="520.5" stroke="#1a1a1a" stroke-width="0.7"/>
<text x="361.9" y="532.5" font-size="8.6" text-anchor="middle" fill="#1a1a1a">10</text>
<text x="366.5" y="528.8" font-size="6" text-rendering="geometricPrecision" fill="#1a1a1a">3</text>
<line x1="382.1" y1="518.9" x2="382.1" y2="521.5" stroke="#1a1a1a" stroke-width="0.9"/>
<line x1="388.0" y1="518.9" x2="388.0" y2="520.5" stroke="#1a1a1a" stroke-width="0.7"/>
<line x1="391.5" y1="518.9" x2="391.5" y2="520.5" stroke="#1a1a1a" stroke-width="0.7"/>
<line x1="394.0" y1="518.9" x2="394.0" y2="520.5" stroke="#1a1a1a" stroke-width="0.7"/>
<line x1="395.9" y1="518.9" x2="395.9" y2="520.5" stroke="#1a1a1a" stroke-width="0.7"/>
<line x1="397.4" y1="518.9" x2="397.4" y2="520.5" stroke="#1a1a1a" stroke-width="0.7"/>
<line x1="398.7" y1="518.9" x2="398.7" y2="520.5" stroke="#1a1a1a" stroke-width="0.7"/>
<line x1="399.9" y1="518.9" x2="399.9" y2="520.5" stroke="#1a1a1a" stroke-width="0.7"/>
<line x1="400.9" y1="518.9" x2="400.9" y2="520.5" stroke="#1a1a1a" stroke-width="0.7"/>
<text x="381.6" y="532.5" font-size="8.6" text-anchor="middle" fill="#1a1a1a">10</text>
<text x="386.2" y="528.8" font-size="6" text-rendering="geometricPrecision" fill="#1a1a1a">4</text>
<line x1="401.8" y1="518.9" x2="401.8" y2="521.5" stroke="#1a1a1a" stroke-width="0.9"/>
<text x="401.3" y="532.5" font-size="8.6" text-anchor="middle" fill="#1a1a1a">10</text>
<text x="405.9" y="528.8" font-size="6" text-rendering="geometricPrecision" fill="#1a1a1a">5</text>
<line x1="304.3" y1="518.5" x2="412.5" y2="518.5" stroke="#6aa8e4" stroke-width="0.9"/>
<path d="M66.80,657.9 L66.80,657.60 C67.65,657.03 70.48,655.75 71.90,654.20 C73.32,652.65 74.32,651.55 75.30,648.30 C76.28,645.05 77.10,639.78 77.80,634.70 C78.50,629.62 79.08,623.45 79.50,617.80 C79.92,612.15 80.02,605.60 80.30,600.80 C80.58,596.00 80.92,590.13 81.20,589.00 C81.48,587.87 81.72,596.27 82.00,594.00 C82.28,591.73 82.47,580.47 82.90,575.40 C83.33,570.33 84.03,566.08 84.60,563.60 C85.17,561.12 85.73,560.22 86.30,560.50 C86.87,560.78 87.52,562.82 88.00,565.30 C88.48,567.78 88.78,569.48 89.20,575.40 C89.62,581.32 90.00,593.17 90.50,600.80 C91.00,608.43 91.63,614.98 92.20,621.20 C92.77,627.42 93.33,633.72 93.90,638.10 C94.47,642.48 94.90,645.10 95.60,647.50 C96.30,649.90 97.25,650.82 98.10,652.50 C98.95,654.18 100.27,656.75 100.70,657.60 L100.70,657.9 Z" fill="#a8acb4" stroke="#444a58" stroke-width="0.9" stroke-linejoin="round"/>
<path d="M93.90,657.9 L93.90,657.60 C95.03,657.33 98.87,657.13 100.70,656.00 C102.53,654.87 103.77,653.50 104.90,650.80 C106.03,648.10 106.65,645.30 107.50,639.80 C108.35,634.30 109.30,625.70 110.00,617.80 C110.70,609.90 111.13,599.18 111.70,592.40 C112.27,585.62 112.83,580.78 113.40,577.10 C113.97,573.42 114.62,572.13 115.10,570.30 C115.58,568.47 115.88,565.53 116.30,566.10 C116.72,566.67 117.10,570.17 117.60,573.70 C118.10,577.23 118.73,581.37 119.30,587.30 C119.87,593.23 120.38,601.95 121.00,609.30 C121.62,616.65 122.28,624.90 123.00,631.40 C123.72,637.90 124.37,643.93 125.30,648.30 C126.23,652.67 128.05,656.05 128.60,657.60 L128.60,657.9 Z" fill="rgba(169,107,31,0.5)" stroke="#bd7a33" stroke-width="0.9" stroke-linejoin="round"/>
<line x1="45.2" y1="552" x2="45.2" y2="658.6" stroke="#1a1a1a" stroke-width="1.2"/>
<line x1="42.2" y1="657.9" x2="45.2" y2="657.9" stroke="#1a1a1a" stroke-width="0.9"/>
<line x1="43.400000000000006" y1="653.8" x2="45.2" y2="653.8" stroke="#444" stroke-width="0.7"/>
<line x1="43.400000000000006" y1="649.7" x2="45.2" y2="649.7" stroke="#444" stroke-width="0.7"/>
<line x1="43.400000000000006" y1="645.6" x2="45.2" y2="645.6" stroke="#444" stroke-width="0.7"/>
<line x1="43.400000000000006" y1="641.5" x2="45.2" y2="641.5" stroke="#444" stroke-width="0.7"/>
<line x1="42.2" y1="637.4" x2="45.2" y2="637.4" stroke="#1a1a1a" stroke-width="0.9"/>
<line x1="43.400000000000006" y1="633.3" x2="45.2" y2="633.3" stroke="#444" stroke-width="0.7"/>
<line x1="43.400000000000006" y1="629.2" x2="45.2" y2="629.2" stroke="#444" stroke-width="0.7"/>
<line x1="43.400000000000006" y1="625.1" x2="45.2" y2="625.1" stroke="#444" stroke-width="0.7"/>
<line x1="43.400000000000006" y1="621.0" x2="45.2" y2="621.0" stroke="#444" stroke-width="0.7"/>
<line x1="42.2" y1="616.9" x2="45.2" y2="616.9" stroke="#1a1a1a" stroke-width="0.9"/>
<line x1="43.400000000000006" y1="612.8" x2="45.2" y2="612.8" stroke="#444" stroke-width="0.7"/>
<line x1="43.400000000000006" y1="608.7" x2="45.2" y2="608.7" stroke="#444" stroke-width="0.7"/>
<line x1="43.400000000000006" y1="604.6" x2="45.2" y2="604.6" stroke="#444" stroke-width="0.7"/>
<line x1="43.400000000000006" y1="600.5" x2="45.2" y2="600.5" stroke="#444" stroke-width="0.7"/>
<line x1="42.2" y1="596.4" x2="45.2" y2="596.4" stroke="#1a1a1a" stroke-width="0.9"/>
<line x1="43.400000000000006" y1="592.3" x2="45.2" y2="592.3" stroke="#444" stroke-width="0.7"/>
<line x1="43.400000000000006" y1="588.2" x2="45.2" y2="588.2" stroke="#444" stroke-width="0.7"/>
<line x1="43.400000000000006" y1="584.1" x2="45.2" y2="584.1" stroke="#444" stroke-width="0.7"/>
<line x1="43.400000000000006" y1="580.0" x2="45.2" y2="580.0" stroke="#444" stroke-width="0.7"/>
<line x1="42.2" y1="575.9" x2="45.2" y2="575.9" stroke="#1a1a1a" stroke-width="0.9"/>
<line x1="43.400000000000006" y1="571.8" x2="45.2" y2="571.8" stroke="#444" stroke-width="0.7"/>
<line x1="43.400000000000006" y1="567.7" x2="45.2" y2="567.7" stroke="#444" stroke-width="0.7"/>
<line x1="43.400000000000006" y1="563.6" x2="45.2" y2="563.6" stroke="#444" stroke-width="0.7"/>
<line x1="43.400000000000006" y1="559.5" x2="45.2" y2="559.5" stroke="#444" stroke-width="0.7"/>
<line x1="42.2" y1="555.4" x2="45.2" y2="555.4" stroke="#1a1a1a" stroke-width="0.9"/>
<line x1="44.6" y1="657.9" x2="151" y2="657.9" stroke="#1a1a1a" stroke-width="1.3"/>
<line x1="45.2" y1="657.9" x2="45.2" y2="660.5" stroke="#1a1a1a" stroke-width="0.9"/>
<line x1="51.0" y1="657.9" x2="51.0" y2="659.5" stroke="#1a1a1a" stroke-width="0.7"/>
<line x1="54.3" y1="657.9" x2="54.3" y2="659.5" stroke="#1a1a1a" stroke-width="0.7"/>
<line x1="56.7" y1="657.9" x2="56.7" y2="659.5" stroke="#1a1a1a" stroke-width="0.7"/>
<line x1="58.6" y1="657.9" x2="58.6" y2="659.5" stroke="#1a1a1a" stroke-width="0.7"/>
<line x1="60.1" y1="657.9" x2="60.1" y2="659.5" stroke="#1a1a1a" stroke-width="0.7"/>
<line x1="61.4" y1="657.9" x2="61.4" y2="659.5" stroke="#1a1a1a" stroke-width="0.7"/>
<line x1="62.5" y1="657.9" x2="62.5" y2="659.5" stroke="#1a1a1a" stroke-width="0.7"/>
<line x1="63.5" y1="657.9" x2="63.5" y2="659.5" stroke="#1a1a1a" stroke-width="0.7"/>
<text x="43.7" y="671.5" font-size="8.6" text-anchor="middle" fill="#1a1a1a">10</text>
<text x="48.3" y="667.8" font-size="6" text-rendering="geometricPrecision" fill="#1a1a1a">0</text>
<line x1="63.4" y1="657.9" x2="63.4" y2="660.5" stroke="#1a1a1a" stroke-width="0.9"/>
<line x1="69.1" y1="657.9" x2="69.1" y2="659.5" stroke="#1a1a1a" stroke-width="0.7"/>
<line x1="72.5" y1="657.9" x2="72.5" y2="659.5" stroke="#1a1a1a" stroke-width="0.7"/>
<line x1="74.9" y1="657.9" x2="74.9" y2="659.5" stroke="#1a1a1a" stroke-width="0.7"/>
<line x1="76.7" y1="657.9" x2="76.7" y2="659.5" stroke="#1a1a1a" stroke-width="0.7"/>
<line x1="78.3" y1="657.9" x2="78.3" y2="659.5" stroke="#1a1a1a" stroke-width="0.7"/>
<line x1="79.5" y1="657.9" x2="79.5" y2="659.5" stroke="#1a1a1a" stroke-width="0.7"/>
<line x1="80.6" y1="657.9" x2="80.6" y2="659.5" stroke="#1a1a1a" stroke-width="0.7"/>
<line x1="81.6" y1="657.9" x2="81.6" y2="659.5" stroke="#1a1a1a" stroke-width="0.7"/>
<text x="62.9" y="671.5" font-size="8.6" text-anchor="middle" fill="#1a1a1a">10</text>
<text x="67.5" y="667.8" font-size="6" text-rendering="geometricPrecision" fill="#1a1a1a">1</text>
<line x1="82.5" y1="657.9" x2="82.5" y2="660.5" stroke="#1a1a1a" stroke-width="0.9"/>
<line x1="88.3" y1="657.9" x2="88.3" y2="659.5" stroke="#1a1a1a" stroke-width="0.7"/>
<line x1="91.6" y1="657.9" x2="91.6" y2="659.5" stroke="#1a1a1a" stroke-width="0.7"/>
<line x1="94.0" y1="657.9" x2="94.0" y2="659.5" stroke="#1a1a1a" stroke-width="0.7"/>
<line x1="95.9" y1="657.9" x2="95.9" y2="659.5" stroke="#1a1a1a" stroke-width="0.7"/>
<line x1="97.4" y1="657.9" x2="97.4" y2="659.5" stroke="#1a1a1a" stroke-width="0.7"/>
<line x1="98.7" y1="657.9" x2="98.7" y2="659.5" stroke="#1a1a1a" stroke-width="0.7"/>
<line x1="99.8" y1="657.9" x2="99.8" y2="659.5" stroke="#1a1a1a" stroke-width="0.7"/>
<line x1="100.8" y1="657.9" x2="100.8" y2="659.5" stroke="#1a1a1a" stroke-width="0.7"/>
<text x="82.0" y="671.5" font-size="8.6" text-anchor="middle" fill="#1a1a1a">10</text>
<text x="86.6" y="667.8" font-size="6" text-rendering="geometricPrecision" fill="#1a1a1a">2</text>
<line x1="101.7" y1="657.9" x2="101.7" y2="660.5" stroke="#1a1a1a" stroke-width="0.9"/>
<line x1="107.4" y1="657.9" x2="107.4" y2="659.5" stroke="#1a1a1a" stroke-width="0.7"/>
<line x1="110.8" y1="657.9" x2="110.8" y2="659.5" stroke="#1a1a1a" stroke-width="0.7"/>
<line x1="113.2" y1="657.9" x2="113.2" y2="659.5" stroke="#1a1a1a" stroke-width="0.7"/>
<line x1="115.0" y1="657.9" x2="115.0" y2="659.5" stroke="#1a1a1a" stroke-width="0.7"/>
<line x1="116.6" y1="657.9" x2="116.6" y2="659.5" stroke="#1a1a1a" stroke-width="0.7"/>
<line x1="117.8" y1="657.9" x2="117.8" y2="659.5" stroke="#1a1a1a" stroke-width="0.7"/>
<line x1="118.9" y1="657.9" x2="118.9" y2="659.5" stroke="#1a1a1a" stroke-width="0.7"/>
<line x1="119.9" y1="657.9" x2="119.9" y2="659.5" stroke="#1a1a1a" stroke-width="0.7"/>
<text x="101.2" y="671.5" font-size="8.6" text-anchor="middle" fill="#1a1a1a">10</text>
<text x="105.8" y="667.8" font-size="6" text-rendering="geometricPrecision" fill="#1a1a1a">3</text>
<line x1="120.8" y1="657.9" x2="120.8" y2="660.5" stroke="#1a1a1a" stroke-width="0.9"/>
<line x1="126.6" y1="657.9" x2="126.6" y2="659.5" stroke="#1a1a1a" stroke-width="0.7"/>
<line x1="129.9" y1="657.9" x2="129.9" y2="659.5" stroke="#1a1a1a" stroke-width="0.7"/>
<line x1="132.3" y1="657.9" x2="132.3" y2="659.5" stroke="#1a1a1a" stroke-width="0.7"/>
<line x1="134.2" y1="657.9" x2="134.2" y2="659.5" stroke="#1a1a1a" stroke-width="0.7"/>
<line x1="135.7" y1="657.9" x2="135.7" y2="659.5" stroke="#1a1a1a" stroke-width="0.7"/>
<line x1="137.0" y1="657.9" x2="137.0" y2="659.5" stroke="#1a1a1a" stroke-width="0.7"/>
<line x1="138.1" y1="657.9" x2="138.1" y2="659.5" stroke="#1a1a1a" stroke-width="0.7"/>
<line x1="139.1" y1="657.9" x2="139.1" y2="659.5" stroke="#1a1a1a" stroke-width="0.7"/>
<text x="120.3" y="671.5" font-size="8.6" text-anchor="middle" fill="#1a1a1a">10</text>
<text x="124.9" y="667.8" font-size="6" text-rendering="geometricPrecision" fill="#1a1a1a">4</text>
<line x1="139.9" y1="657.9" x2="139.9" y2="660.5" stroke="#1a1a1a" stroke-width="0.9"/>
<text x="139.4" y="671.5" font-size="8.6" text-anchor="middle" fill="#1a1a1a">10</text>
<text x="144.0" y="667.8" font-size="6" text-rendering="geometricPrecision" fill="#1a1a1a">5</text>
<line x1="45.2" y1="657.5" x2="151" y2="657.5" stroke="#b77a3a" stroke-width="0.9"/>
<path d="M197.70,657.9 L197.70,657.60 C198.82,655.95 202.60,652.48 204.40,647.70 C206.20,642.92 207.60,635.63 208.50,628.90 C209.40,622.17 209.35,615.83 209.80,607.30 C210.25,598.77 210.62,583.98 211.20,577.70 C211.78,571.42 212.63,571.38 213.30,569.60 C213.97,567.82 214.57,566.10 215.20,567.00 C215.83,567.90 216.43,567.83 217.10,575.00 C217.77,582.17 218.40,599.23 219.20,610.00 C220.00,620.77 220.77,632.43 221.90,639.60 C223.03,646.77 224.65,650.00 226.00,653.00 C227.35,656.00 229.33,656.83 230.00,657.60 L230.00,657.9 Z" fill="#a8acb4" stroke="#444a58" stroke-width="0.9" stroke-linejoin="round"/>
<path d="M227.30,657.9 L227.30,657.60 C228.42,655.95 232.22,652.93 234.00,647.70 C235.78,642.47 237.10,634.28 238.00,626.20 C238.90,618.12 238.93,606.83 239.40,599.20 C239.87,591.57 240.35,584.88 240.80,580.40 C241.25,575.92 241.57,574.32 242.10,572.30 C242.63,570.28 243.32,567.40 244.00,568.30 C244.68,569.20 245.48,571.20 246.20,577.70 C246.92,584.20 247.50,597.42 248.30,607.30 C249.10,617.18 250.02,629.38 251.00,637.00 C251.98,644.62 252.98,649.57 254.20,653.00 C255.42,656.43 257.62,656.83 258.30,657.60 L258.30,657.9 Z" fill="rgba(169,107,31,0.5)" stroke="#bd7a33" stroke-width="0.9" stroke-linejoin="round"/>
<line x1="174.8" y1="552" x2="174.8" y2="658.6" stroke="#1a1a1a" stroke-width="1.2"/>
<line x1="171.8" y1="657.9" x2="174.8" y2="657.9" stroke="#1a1a1a" stroke-width="0.9"/>
<line x1="173.0" y1="653.8" x2="174.8" y2="653.8" stroke="#444" stroke-width="0.7"/>
<line x1="173.0" y1="649.7" x2="174.8" y2="649.7" stroke="#444" stroke-width="0.7"/>
<line x1="173.0" y1="645.6" x2="174.8" y2="645.6" stroke="#444" stroke-width="0.7"/>
<line x1="173.0" y1="641.5" x2="174.8" y2="641.5" stroke="#444" stroke-width="0.7"/>
<line x1="171.8" y1="637.4" x2="174.8" y2="637.4" stroke="#1a1a1a" stroke-width="0.9"/>
<line x1="173.0" y1="633.3" x2="174.8" y2="633.3" stroke="#444" stroke-width="0.7"/>
<line x1="173.0" y1="629.2" x2="174.8" y2="629.2" stroke="#444" stroke-width="0.7"/>
<line x1="173.0" y1="625.1" x2="174.8" y2="625.1" stroke="#444" stroke-width="0.7"/>
<line x1="173.0" y1="621.0" x2="174.8" y2="621.0" stroke="#444" stroke-width="0.7"/>
<line x1="171.8" y1="616.9" x2="174.8" y2="616.9" stroke="#1a1a1a" stroke-width="0.9"/>
<line x1="173.0" y1="612.8" x2="174.8" y2="612.8" stroke="#444" stroke-width="0.7"/>
<line x1="173.0" y1="608.7" x2="174.8" y2="608.7" stroke="#444" stroke-width="0.7"/>
<line x1="173.0" y1="604.6" x2="174.8" y2="604.6" stroke="#444" stroke-width="0.7"/>
<line x1="173.0" y1="600.5" x2="174.8" y2="600.5" stroke="#444" stroke-width="0.7"/>
<line x1="171.8" y1="596.4" x2="174.8" y2="596.4" stroke="#1a1a1a" stroke-width="0.9"/>
<line x1="173.0" y1="592.3" x2="174.8" y2="592.3" stroke="#444" stroke-width="0.7"/>
<line x1="173.0" y1="588.2" x2="174.8" y2="588.2" stroke="#444" stroke-width="0.7"/>
<line x1="173.0" y1="584.1" x2="174.8" y2="584.1" stroke="#444" stroke-width="0.7"/>
<line x1="173.0" y1="580.0" x2="174.8" y2="580.0" stroke="#444" stroke-width="0.7"/>
<line x1="171.8" y1="575.9" x2="174.8" y2="575.9" stroke="#1a1a1a" stroke-width="0.9"/>
<line x1="173.0" y1="571.8" x2="174.8" y2="571.8" stroke="#444" stroke-width="0.7"/>
<line x1="173.0" y1="567.7" x2="174.8" y2="567.7" stroke="#444" stroke-width="0.7"/>
<line x1="173.0" y1="563.6" x2="174.8" y2="563.6" stroke="#444" stroke-width="0.7"/>
<line x1="173.0" y1="559.5" x2="174.8" y2="559.5" stroke="#444" stroke-width="0.7"/>
<line x1="171.8" y1="555.4" x2="174.8" y2="555.4" stroke="#1a1a1a" stroke-width="0.9"/>
<line x1="174.20000000000002" y1="657.9" x2="280.6" y2="657.9" stroke="#1a1a1a" stroke-width="1.3"/>
<line x1="174.8" y1="657.9" x2="174.8" y2="660.5" stroke="#1a1a1a" stroke-width="0.9"/>
<line x1="180.6" y1="657.9" x2="180.6" y2="659.5" stroke="#1a1a1a" stroke-width="0.7"/>
<line x1="183.9" y1="657.9" x2="183.9" y2="659.5" stroke="#1a1a1a" stroke-width="0.7"/>
<line x1="186.3" y1="657.9" x2="186.3" y2="659.5" stroke="#1a1a1a" stroke-width="0.7"/>
<line x1="188.2" y1="657.9" x2="188.2" y2="659.5" stroke="#1a1a1a" stroke-width="0.7"/>
<line x1="189.7" y1="657.9" x2="189.7" y2="659.5" stroke="#1a1a1a" stroke-width="0.7"/>
<line x1="191.0" y1="657.9" x2="191.0" y2="659.5" stroke="#1a1a1a" stroke-width="0.7"/>
<line x1="192.1" y1="657.9" x2="192.1" y2="659.5" stroke="#1a1a1a" stroke-width="0.7"/>
<line x1="193.1" y1="657.9" x2="193.1" y2="659.5" stroke="#1a1a1a" stroke-width="0.7"/>
<text x="173.3" y="671.5" font-size="8.6" text-anchor="middle" fill="#1a1a1a">10</text>
<text x="177.9" y="667.8" font-size="6" text-rendering="geometricPrecision" fill="#1a1a1a">0</text>
<line x1="193.0" y1="657.9" x2="193.0" y2="660.5" stroke="#1a1a1a" stroke-width="0.9"/>
<line x1="198.7" y1="657.9" x2="198.7" y2="659.5" stroke="#1a1a1a" stroke-width="0.7"/>
<line x1="202.1" y1="657.9" x2="202.1" y2="659.5" stroke="#1a1a1a" stroke-width="0.7"/>
<line x1="204.5" y1="657.9" x2="204.5" y2="659.5" stroke="#1a1a1a" stroke-width="0.7"/>
<line x1="206.3" y1="657.9" x2="206.3" y2="659.5" stroke="#1a1a1a" stroke-width="0.7"/>
<line x1="207.9" y1="657.9" x2="207.9" y2="659.5" stroke="#1a1a1a" stroke-width="0.7"/>
<line x1="209.1" y1="657.9" x2="209.1" y2="659.5" stroke="#1a1a1a" stroke-width="0.7"/>
<line x1="210.2" y1="657.9" x2="210.2" y2="659.5" stroke="#1a1a1a" stroke-width="0.7"/>
<line x1="211.2" y1="657.9" x2="211.2" y2="659.5" stroke="#1a1a1a" stroke-width="0.7"/>
<text x="192.5" y="671.5" font-size="8.6" text-anchor="middle" fill="#1a1a1a">10</text>
<text x="197.1" y="667.8" font-size="6" text-rendering="geometricPrecision" fill="#1a1a1a">1</text>
<line x1="212.1" y1="657.9" x2="212.1" y2="660.5" stroke="#1a1a1a" stroke-width="0.9"/>
<line x1="217.9" y1="657.9" x2="217.9" y2="659.5" stroke="#1a1a1a" stroke-width="0.7"/>
<line x1="221.2" y1="657.9" x2="221.2" y2="659.5" stroke="#1a1a1a" stroke-width="0.7"/>
<line x1="223.6" y1="657.9" x2="223.6" y2="659.5" stroke="#1a1a1a" stroke-width="0.7"/>
<line x1="225.5" y1="657.9" x2="225.5" y2="659.5" stroke="#1a1a1a" stroke-width="0.7"/>
<line x1="227.0" y1="657.9" x2="227.0" y2="659.5" stroke="#1a1a1a" stroke-width="0.7"/>
<line x1="228.3" y1="657.9" x2="228.3" y2="659.5" stroke="#1a1a1a" stroke-width="0.7"/>
<line x1="229.4" y1="657.9" x2="229.4" y2="659.5" stroke="#1a1a1a" stroke-width="0.7"/>
<line x1="230.4" y1="657.9" x2="230.4" y2="659.5" stroke="#1a1a1a" stroke-width="0.7"/>
<text x="211.6" y="671.5" font-size="8.6" text-anchor="middle" fill="#1a1a1a">10</text>
<text x="216.2" y="667.8" font-size="6" text-rendering="geometricPrecision" fill="#1a1a1a">2</text>
<line x1="231.2" y1="657.9" x2="231.2" y2="660.5" stroke="#1a1a1a" stroke-width="0.9"/>
<line x1="237.0" y1="657.9" x2="237.0" y2="659.5" stroke="#1a1a1a" stroke-width="0.7"/>
<line x1="240.4" y1="657.9" x2="240.4" y2="659.5" stroke="#1a1a1a" stroke-width="0.7"/>
<line x1="242.8" y1="657.9" x2="242.8" y2="659.5" stroke="#1a1a1a" stroke-width="0.7"/>
<line x1="244.6" y1="657.9" x2="244.6" y2="659.5" stroke="#1a1a1a" stroke-width="0.7"/>
<line x1="246.2" y1="657.9" x2="246.2" y2="659.5" stroke="#1a1a1a" stroke-width="0.7"/>
<line x1="247.4" y1="657.9" x2="247.4" y2="659.5" stroke="#1a1a1a" stroke-width="0.7"/>
<line x1="248.5" y1="657.9" x2="248.5" y2="659.5" stroke="#1a1a1a" stroke-width="0.7"/>
<line x1="249.5" y1="657.9" x2="249.5" y2="659.5" stroke="#1a1a1a" stroke-width="0.7"/>
<text x="230.8" y="671.5" font-size="8.6" text-anchor="middle" fill="#1a1a1a">10</text>
<text x="235.3" y="667.8" font-size="6" text-rendering="geometricPrecision" fill="#1a1a1a">3</text>
<line x1="250.4" y1="657.9" x2="250.4" y2="660.5" stroke="#1a1a1a" stroke-width="0.9"/>
<line x1="256.2" y1="657.9" x2="256.2" y2="659.5" stroke="#1a1a1a" stroke-width="0.7"/>
<line x1="259.5" y1="657.9" x2="259.5" y2="659.5" stroke="#1a1a1a" stroke-width="0.7"/>
<line x1="261.9" y1="657.9" x2="261.9" y2="659.5" stroke="#1a1a1a" stroke-width="0.7"/>
<line x1="263.8" y1="657.9" x2="263.8" y2="659.5" stroke="#1a1a1a" stroke-width="0.7"/>
<line x1="265.3" y1="657.9" x2="265.3" y2="659.5" stroke="#1a1a1a" stroke-width="0.7"/>
<line x1="266.6" y1="657.9" x2="266.6" y2="659.5" stroke="#1a1a1a" stroke-width="0.7"/>
<line x1="267.7" y1="657.9" x2="267.7" y2="659.5" stroke="#1a1a1a" stroke-width="0.7"/>
<line x1="268.7" y1="657.9" x2="268.7" y2="659.5" stroke="#1a1a1a" stroke-width="0.7"/>
<text x="249.9" y="671.5" font-size="8.6" text-anchor="middle" fill="#1a1a1a">10</text>
<text x="254.5" y="667.8" font-size="6" text-rendering="geometricPrecision" fill="#1a1a1a">4</text>
<line x1="269.6" y1="657.9" x2="269.6" y2="660.5" stroke="#1a1a1a" stroke-width="0.9"/>
<text x="269.1" y="671.5" font-size="8.6" text-anchor="middle" fill="#1a1a1a">10</text>
<text x="273.7" y="667.8" font-size="6" text-rendering="geometricPrecision" fill="#1a1a1a">5</text>
<line x1="174.8" y1="657.5" x2="280.6" y2="657.5" stroke="#b77a3a" stroke-width="0.9"/>
<path d="M323.20,657.9 L323.20,657.60 C324.12,657.27 327.10,656.80 328.69,655.60 C330.29,654.40 331.65,652.50 332.78,650.40 C333.92,648.30 334.69,646.18 335.48,643.00 C336.27,639.82 336.95,634.97 337.53,631.30 C338.10,627.63 338.58,624.68 338.92,621.00 C339.26,617.32 339.34,614.87 339.57,609.20 C339.81,603.53 340.08,592.15 340.32,587.00 C340.55,581.85 340.67,579.27 340.97,578.30 C341.26,577.33 341.62,581.70 342.08,581.20 C342.55,580.70 343.26,575.55 343.76,575.30 C344.25,575.05 344.61,576.50 345.06,579.70 C345.51,582.90 346.11,589.58 346.45,594.50 C346.80,599.42 346.76,603.80 347.11,609.20 C347.45,614.60 348.04,621.50 348.50,626.90 C348.97,632.30 349.32,637.68 349.90,641.60 C350.47,645.52 351.26,647.95 351.94,650.40 C352.62,652.85 353.07,655.10 353.99,656.30 C354.90,657.50 356.86,657.38 357.43,657.60 L357.43,657.9 Z" fill="#a8acb4" stroke="#444a58" stroke-width="0.9" stroke-linejoin="round"/>
<path d="M323.00,657.9 L323.00,657.60 C323.92,657.27 326.90,656.80 328.49,655.60 C330.09,654.40 331.45,652.50 332.58,650.40 C333.72,648.30 334.49,646.18 335.28,643.00 C336.07,639.82 336.75,634.97 337.33,631.30 C337.90,627.63 338.38,624.68 338.72,621.00 C339.06,617.32 339.14,614.87 339.37,609.20 C339.61,603.53 339.88,592.15 340.12,587.00 C340.35,581.85 340.47,579.27 340.77,578.30 C341.06,577.33 341.42,581.70 341.88,581.20 C342.35,580.70 343.06,575.55 343.56,575.30 C344.05,575.05 344.41,576.50 344.86,579.70 C345.31,582.90 345.91,589.58 346.25,594.50 C346.60,599.42 346.56,603.80 346.91,609.20 C347.25,614.60 347.84,621.50 348.30,626.90 C348.77,632.30 349.12,637.68 349.70,641.60 C350.27,645.52 351.06,647.95 351.74,650.40 C352.42,652.85 352.87,655.10 353.79,656.30 C354.70,657.50 356.66,657.38 357.23,657.60 L357.23,657.9 Z" fill="rgba(169,107,31,0.5)" stroke="#bd7a33" stroke-width="0.9" stroke-linejoin="round"/>
<line x1="304.3" y1="550.2" x2="304.3" y2="658.6" stroke="#1a1a1a" stroke-width="1.2"/>
<line x1="301.3" y1="657.9" x2="304.3" y2="657.9" stroke="#1a1a1a" stroke-width="0.9"/>
<line x1="302.5" y1="653.8" x2="304.3" y2="653.8" stroke="#444" stroke-width="0.7"/>
<line x1="302.5" y1="649.7" x2="304.3" y2="649.7" stroke="#444" stroke-width="0.7"/>
<line x1="302.5" y1="645.6" x2="304.3" y2="645.6" stroke="#444" stroke-width="0.7"/>
<line x1="302.5" y1="641.5" x2="304.3" y2="641.5" stroke="#444" stroke-width="0.7"/>
<line x1="301.3" y1="637.4" x2="304.3" y2="637.4" stroke="#1a1a1a" stroke-width="0.9"/>
<line x1="302.5" y1="633.3" x2="304.3" y2="633.3" stroke="#444" stroke-width="0.7"/>
<line x1="302.5" y1="629.2" x2="304.3" y2="629.2" stroke="#444" stroke-width="0.7"/>
<line x1="302.5" y1="625.1" x2="304.3" y2="625.1" stroke="#444" stroke-width="0.7"/>
<line x1="302.5" y1="621.0" x2="304.3" y2="621.0" stroke="#444" stroke-width="0.7"/>
<line x1="301.3" y1="616.9" x2="304.3" y2="616.9" stroke="#1a1a1a" stroke-width="0.9"/>
<line x1="302.5" y1="612.8" x2="304.3" y2="612.8" stroke="#444" stroke-width="0.7"/>
<line x1="302.5" y1="608.7" x2="304.3" y2="608.7" stroke="#444" stroke-width="0.7"/>
<line x1="302.5" y1="604.6" x2="304.3" y2="604.6" stroke="#444" stroke-width="0.7"/>
<line x1="302.5" y1="600.5" x2="304.3" y2="600.5" stroke="#444" stroke-width="0.7"/>
<line x1="301.3" y1="596.4" x2="304.3" y2="596.4" stroke="#1a1a1a" stroke-width="0.9"/>
<line x1="302.5" y1="592.3" x2="304.3" y2="592.3" stroke="#444" stroke-width="0.7"/>
<line x1="302.5" y1="588.2" x2="304.3" y2="588.2" stroke="#444" stroke-width="0.7"/>
<line x1="302.5" y1="584.1" x2="304.3" y2="584.1" stroke="#444" stroke-width="0.7"/>
<line x1="302.5" y1="580.0" x2="304.3" y2="580.0" stroke="#444" stroke-width="0.7"/>
<line x1="301.3" y1="575.9" x2="304.3" y2="575.9" stroke="#1a1a1a" stroke-width="0.9"/>
<line x1="302.5" y1="571.8" x2="304.3" y2="571.8" stroke="#444" stroke-width="0.7"/>
<line x1="302.5" y1="567.7" x2="304.3" y2="567.7" stroke="#444" stroke-width="0.7"/>
<line x1="302.5" y1="563.6" x2="304.3" y2="563.6" stroke="#444" stroke-width="0.7"/>
<line x1="302.5" y1="559.5" x2="304.3" y2="559.5" stroke="#444" stroke-width="0.7"/>
<line x1="301.3" y1="555.4" x2="304.3" y2="555.4" stroke="#1a1a1a" stroke-width="0.9"/>
<line x1="303.7" y1="657.9" x2="410.6" y2="657.9" stroke="#1a1a1a" stroke-width="1.3"/>
<line x1="304.3" y1="657.9" x2="304.3" y2="660.5" stroke="#1a1a1a" stroke-width="0.9"/>
<line x1="310.1" y1="657.9" x2="310.1" y2="659.5" stroke="#1a1a1a" stroke-width="0.7"/>
<line x1="313.4" y1="657.9" x2="313.4" y2="659.5" stroke="#1a1a1a" stroke-width="0.7"/>
<line x1="315.8" y1="657.9" x2="315.8" y2="659.5" stroke="#1a1a1a" stroke-width="0.7"/>
<line x1="317.7" y1="657.9" x2="317.7" y2="659.5" stroke="#1a1a1a" stroke-width="0.7"/>
<line x1="319.2" y1="657.9" x2="319.2" y2="659.5" stroke="#1a1a1a" stroke-width="0.7"/>
<line x1="320.5" y1="657.9" x2="320.5" y2="659.5" stroke="#1a1a1a" stroke-width="0.7"/>
<line x1="321.6" y1="657.9" x2="321.6" y2="659.5" stroke="#1a1a1a" stroke-width="0.7"/>
<line x1="322.6" y1="657.9" x2="322.6" y2="659.5" stroke="#1a1a1a" stroke-width="0.7"/>
<text x="302.8" y="671.5" font-size="8.6" text-anchor="middle" fill="#1a1a1a">10</text>
<text x="307.4" y="667.8" font-size="6" text-rendering="geometricPrecision" fill="#1a1a1a">0</text>
<line x1="322.4" y1="657.9" x2="322.4" y2="660.5" stroke="#1a1a1a" stroke-width="0.9"/>
<line x1="328.2" y1="657.9" x2="328.2" y2="659.5" stroke="#1a1a1a" stroke-width="0.7"/>
<line x1="331.6" y1="657.9" x2="331.6" y2="659.5" stroke="#1a1a1a" stroke-width="0.7"/>
<line x1="334.0" y1="657.9" x2="334.0" y2="659.5" stroke="#1a1a1a" stroke-width="0.7"/>
<line x1="335.8" y1="657.9" x2="335.8" y2="659.5" stroke="#1a1a1a" stroke-width="0.7"/>
<line x1="337.4" y1="657.9" x2="337.4" y2="659.5" stroke="#1a1a1a" stroke-width="0.7"/>
<line x1="338.6" y1="657.9" x2="338.6" y2="659.5" stroke="#1a1a1a" stroke-width="0.7"/>
<line x1="339.7" y1="657.9" x2="339.7" y2="659.5" stroke="#1a1a1a" stroke-width="0.7"/>
<line x1="340.7" y1="657.9" x2="340.7" y2="659.5" stroke="#1a1a1a" stroke-width="0.7"/>
<text x="321.9" y="671.5" font-size="8.6" text-anchor="middle" fill="#1a1a1a">10</text>
<text x="326.6" y="667.8" font-size="6" text-rendering="geometricPrecision" fill="#1a1a1a">1</text>
<line x1="341.6" y1="657.9" x2="341.6" y2="660.5" stroke="#1a1a1a" stroke-width="0.9"/>
<line x1="347.4" y1="657.9" x2="347.4" y2="659.5" stroke="#1a1a1a" stroke-width="0.7"/>
<line x1="350.7" y1="657.9" x2="350.7" y2="659.5" stroke="#1a1a1a" stroke-width="0.7"/>
<line x1="353.1" y1="657.9" x2="353.1" y2="659.5" stroke="#1a1a1a" stroke-width="0.7"/>
<line x1="355.0" y1="657.9" x2="355.0" y2="659.5" stroke="#1a1a1a" stroke-width="0.7"/>
<line x1="356.5" y1="657.9" x2="356.5" y2="659.5" stroke="#1a1a1a" stroke-width="0.7"/>
<line x1="357.8" y1="657.9" x2="357.8" y2="659.5" stroke="#1a1a1a" stroke-width="0.7"/>
<line x1="358.9" y1="657.9" x2="358.9" y2="659.5" stroke="#1a1a1a" stroke-width="0.7"/>
<line x1="359.9" y1="657.9" x2="359.9" y2="659.5" stroke="#1a1a1a" stroke-width="0.7"/>
<text x="341.1" y="671.5" font-size="8.6" text-anchor="middle" fill="#1a1a1a">10</text>
<text x="345.7" y="667.8" font-size="6" text-rendering="geometricPrecision" fill="#1a1a1a">2</text>
<line x1="360.8" y1="657.9" x2="360.8" y2="660.5" stroke="#1a1a1a" stroke-width="0.9"/>
<line x1="366.5" y1="657.9" x2="366.5" y2="659.5" stroke="#1a1a1a" stroke-width="0.7"/>
<line x1="369.9" y1="657.9" x2="369.9" y2="659.5" stroke="#1a1a1a" stroke-width="0.7"/>
<line x1="372.3" y1="657.9" x2="372.3" y2="659.5" stroke="#1a1a1a" stroke-width="0.7"/>
<line x1="374.1" y1="657.9" x2="374.1" y2="659.5" stroke="#1a1a1a" stroke-width="0.7"/>
<line x1="375.7" y1="657.9" x2="375.7" y2="659.5" stroke="#1a1a1a" stroke-width="0.7"/>
<line x1="376.9" y1="657.9" x2="376.9" y2="659.5" stroke="#1a1a1a" stroke-width="0.7"/>
<line x1="378.0" y1="657.9" x2="378.0" y2="659.5" stroke="#1a1a1a" stroke-width="0.7"/>
<line x1="379.0" y1="657.9" x2="379.0" y2="659.5" stroke="#1a1a1a" stroke-width="0.7"/>
<text x="360.2" y="671.5" font-size="8.6" text-anchor="middle" fill="#1a1a1a">10</text>
<text x="364.9" y="667.8" font-size="6" text-rendering="geometricPrecision" fill="#1a1a1a">3</text>
<line x1="379.9" y1="657.9" x2="379.9" y2="660.5" stroke="#1a1a1a" stroke-width="0.9"/>
<line x1="385.7" y1="657.9" x2="385.7" y2="659.5" stroke="#1a1a1a" stroke-width="0.7"/>
<line x1="389.0" y1="657.9" x2="389.0" y2="659.5" stroke="#1a1a1a" stroke-width="0.7"/>
<line x1="391.4" y1="657.9" x2="391.4" y2="659.5" stroke="#1a1a1a" stroke-width="0.7"/>
<line x1="393.3" y1="657.9" x2="393.3" y2="659.5" stroke="#1a1a1a" stroke-width="0.7"/>
<line x1="394.8" y1="657.9" x2="394.8" y2="659.5" stroke="#1a1a1a" stroke-width="0.7"/>
<line x1="396.1" y1="657.9" x2="396.1" y2="659.5" stroke="#1a1a1a" stroke-width="0.7"/>
<line x1="397.2" y1="657.9" x2="397.2" y2="659.5" stroke="#1a1a1a" stroke-width="0.7"/>
<line x1="398.2" y1="657.9" x2="398.2" y2="659.5" stroke="#1a1a1a" stroke-width="0.7"/>
<text x="379.4" y="671.5" font-size="8.6" text-anchor="middle" fill="#1a1a1a">10</text>
<text x="384.0" y="667.8" font-size="6" text-rendering="geometricPrecision" fill="#1a1a1a">4</text>
<line x1="399.1" y1="657.9" x2="399.1" y2="660.5" stroke="#1a1a1a" stroke-width="0.9"/>
<text x="398.6" y="671.5" font-size="8.6" text-anchor="middle" fill="#1a1a1a">10</text>
<text x="403.2" y="667.8" font-size="6" text-rendering="geometricPrecision" fill="#1a1a1a">5</text>
<line x1="304.3" y1="657.5" x2="410.6" y2="657.5" stroke="#b77a3a" stroke-width="0.9"/>
<rect x="415.5" y="452.7" width="9" height="9.6" fill="#a8acb4" stroke="#555a66" stroke-width="1"/>
<rect x="415.5" y="465.9" width="9" height="9" fill="#b8d5ef" stroke="#6aa6e0" stroke-width="1"/>
<text x="427.6" y="460.5" font-size="8" fill="#1a1a1a">mIgG2b</text>
<text x="427.6" y="472.7" font-size="8" textLength="86" lengthAdjust="spacingAndGlyphs" fill="#1a1a1a">GPRC5D (Clone 571961)</text>
<rect x="413.9" y="593.8" width="8.8" height="8.8" fill="#a8acb4" stroke="#555a66" stroke-width="1"/>
<rect x="413.9" y="606.4" width="8.8" height="8.6" fill="#d4b58f" stroke="#bd7a33" stroke-width="1"/>
<text x="426" y="600.8" font-size="8" fill="#1a1a1a">mIgG2a</text>
<text x="426" y="612.9" font-size="8" textLength="68.6" lengthAdjust="spacingAndGlyphs" fill="#1a1a1a">BCMA (Clone 19F2)</text>
<rect x="0.5" y="0.5" width="519" height="678" fill="none" stroke="#000" stroke-width="1.2"/>
</svg></body></html>
